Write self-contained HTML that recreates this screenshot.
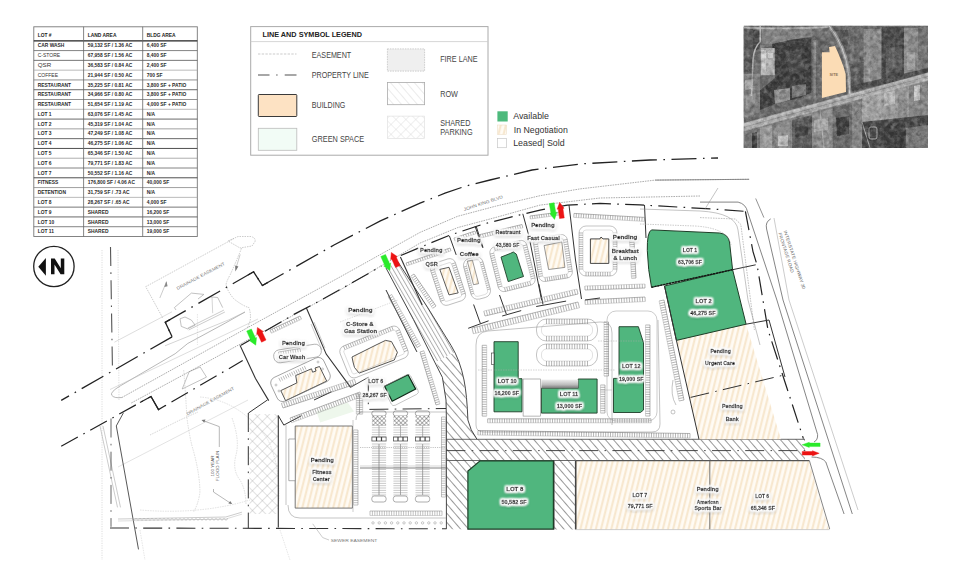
<!DOCTYPE html><html><head><meta charset="utf-8"><style>
html,body{margin:0;padding:0;background:#fff;width:958px;height:588px;overflow:hidden;}
svg{display:block;font-family:"Liberation Sans", sans-serif;}

</style></head><body>
<svg width="958" height="588" viewBox="0 0 958 588">
<defs>
<pattern id="row" patternUnits="userSpaceOnUse" width="6" height="6" patternTransform="rotate(-41)"><rect width="6" height="6" fill="#fff"/><line x1="0.5" y1="0" x2="0.5" y2="6" stroke="#777" stroke-width="0.75"/></pattern>
<pattern id="peach" patternUnits="userSpaceOnUse" width="5" height="5" patternTransform="rotate(14)"><rect width="5" height="5" fill="#fffbf4"/><line x1="1.2" y1="0" x2="1.2" y2="5" stroke="#f7e6cc" stroke-width="2.0"/></pattern>
<pattern id="xh" patternUnits="userSpaceOnUse" width="7" height="7" patternTransform="rotate(45)"><rect width="7" height="7" fill="#fff"/><line x1="0" y1="0" x2="0" y2="7" stroke="#9a9a9a" stroke-width="0.6"/><line x1="0" y1="0" x2="7" y2="0" stroke="#9a9a9a" stroke-width="0.6"/></pattern>
<pattern id="lrow" patternUnits="userSpaceOnUse" width="6" height="6" patternTransform="rotate(-41)"><rect width="6" height="6" fill="#fff"/><line x1="0" y1="0" x2="0" y2="6" stroke="#bbb" stroke-width="0.6"/></pattern>
<pattern id="lx" patternUnits="userSpaceOnUse" width="7" height="7" patternTransform="rotate(45)"><rect width="7" height="7" fill="#fff"/><line x1="0" y1="0" x2="0" y2="7" stroke="#c8c8c8" stroke-width="0.6"/><line x1="0" y1="0" x2="7" y2="0" stroke="#c8c8c8" stroke-width="0.6"/></pattern>
<filter id="glow" x="-30%" y="-80%" width="160%" height="260%"><feMorphology in="SourceAlpha" operator="dilate" radius="0.7" result="dil"/><feGaussianBlur in="dil" stdDeviation="1.7" result="b1"/><feOffset in="b1" dy="1.2" result="b1o"/><feFlood flood-color="#000" flood-opacity="0.62"/><feComposite in2="b1o" operator="in" result="sh"/><feGaussianBlur in="dil" stdDeviation="0.95" result="b2"/><feFlood flood-color="#fff" flood-opacity="1"/><feComposite in2="b2" operator="in" result="wh"/><feMerge><feMergeNode in="sh"/><feMergeNode in="wh"/><feMergeNode in="wh"/><feMergeNode in="wh"/><feMergeNode in="SourceGraphic"/></feMerge></filter>
<pattern id="xd" patternUnits="userSpaceOnUse" width="3" height="3" patternTransform="rotate(45)"><rect width="3" height="3" fill="#fff"/><line x1="0" y1="0" x2="0" y2="3" stroke="#444" stroke-width="0.8"/><line x1="0" y1="0" x2="3" y2="0" stroke="#444" stroke-width="0.8"/></pattern>
<pattern id="row2" patternUnits="userSpaceOnUse" width="3.6" height="6" patternTransform="rotate(-30)"><rect width="3.6" height="6" fill="#fff"/><line x1="0.5" y1="0" x2="0.5" y2="6" stroke="#777" stroke-width="0.6"/></pattern>
</defs>
<rect x="33.8" y="26.8" width="163.5" height="209.7" fill="#fff" stroke="#777" stroke-width="0.9"/>
<text x="37.7" y="37.2" font-size="4.9" font-weight="bold" fill="#222" text-anchor="start" >LOT #</text>
<text x="87.8" y="37.2" font-size="4.9" font-weight="bold" fill="#222" text-anchor="start" >LAND AREA</text>
<text x="146.7" y="37.2" font-size="4.9" font-weight="bold" fill="#222" text-anchor="start" >BLDG AREA</text>
<line x1="33.8" y1="40.8" x2="197.3" y2="40.8" stroke="#222" stroke-width="1.3" />
<line x1="33.8" y1="50.58" x2="197.3" y2="50.58" stroke="#666" stroke-width="0.8" />
<text x="37.7" y="47.4" font-size="4.9" font-weight="bold" fill="#2a2a2a" text-anchor="start" >CAR WASH</text>
<text x="87.8" y="47.4" font-size="4.9" font-weight="bold" fill="#2a2a2a" text-anchor="start" >59,132 SF / 1.36 AC</text>
<text x="146.7" y="47.4" font-size="4.9" font-weight="bold" fill="#2a2a2a" text-anchor="start" >6,400 SF</text>
<line x1="33.8" y1="60.37" x2="197.3" y2="60.37" stroke="#555" stroke-width="0.8" />
<text x="37.7" y="57.18" font-size="5.0" font-weight="normal" fill="#333" text-anchor="start" >C-STORE</text>
<text x="87.8" y="57.18" font-size="4.9" font-weight="bold" fill="#2a2a2a" text-anchor="start" >67,958 SF / 1.56 AC</text>
<text x="146.7" y="57.18" font-size="4.9" font-weight="bold" fill="#2a2a2a" text-anchor="start" >8,400 SF</text>
<line x1="33.8" y1="70.16" x2="197.3" y2="70.16" stroke="#aaa" stroke-width="0.8" />
<text x="37.7" y="67.27" font-size="6.2" font-weight="normal" fill="#333" text-anchor="start" >QSR</text>
<text x="87.8" y="66.97" font-size="4.9" font-weight="bold" fill="#2a2a2a" text-anchor="start" >36,583 SF / 0.84 AC</text>
<text x="146.7" y="66.97" font-size="4.9" font-weight="bold" fill="#2a2a2a" text-anchor="start" >2,400 SF</text>
<line x1="33.8" y1="79.94" x2="197.3" y2="79.94" stroke="#777" stroke-width="0.8" />
<text x="37.7" y="76.75" font-size="5.0" font-weight="normal" fill="#333" text-anchor="start" >COFFEE</text>
<text x="87.8" y="76.75" font-size="4.9" font-weight="bold" fill="#2a2a2a" text-anchor="start" >21,944 SF / 0.50 AC</text>
<text x="146.7" y="76.75" font-size="4.9" font-weight="bold" fill="#2a2a2a" text-anchor="start" >700 SF</text>
<line x1="33.8" y1="89.72" x2="197.3" y2="89.72" stroke="#444" stroke-width="0.8" />
<text x="37.7" y="86.54" font-size="4.9" font-weight="bold" fill="#2a2a2a" text-anchor="start" >RESTAURANT</text>
<text x="87.8" y="86.54" font-size="4.9" font-weight="bold" fill="#2a2a2a" text-anchor="start" >35,225 SF / 0.81 AC</text>
<text x="146.7" y="86.54" font-size="4.9" font-weight="bold" fill="#2a2a2a" text-anchor="start" >3,800 SF + PATIO</text>
<line x1="33.8" y1="99.51" x2="197.3" y2="99.51" stroke="#777" stroke-width="0.8" />
<text x="37.7" y="96.32" font-size="4.9" font-weight="bold" fill="#2a2a2a" text-anchor="start" >RESTAURANT</text>
<text x="87.8" y="96.32" font-size="4.9" font-weight="bold" fill="#2a2a2a" text-anchor="start" >34,966 SF / 0.80 AC</text>
<text x="146.7" y="96.32" font-size="4.9" font-weight="bold" fill="#2a2a2a" text-anchor="start" >3,800 SF + PATIO</text>
<line x1="33.8" y1="109.3" x2="197.3" y2="109.3" stroke="#aaa" stroke-width="0.8" />
<text x="37.7" y="106.11" font-size="4.9" font-weight="bold" fill="#2a2a2a" text-anchor="start" >RESTAURANT</text>
<text x="87.8" y="106.11" font-size="4.9" font-weight="bold" fill="#2a2a2a" text-anchor="start" >51,654 SF / 1.19 AC</text>
<text x="146.7" y="106.11" font-size="4.9" font-weight="bold" fill="#2a2a2a" text-anchor="start" >4,000 SF + PATIO</text>
<line x1="33.8" y1="119.08" x2="197.3" y2="119.08" stroke="#444" stroke-width="0.8" />
<text x="37.7" y="115.89" font-size="4.9" font-weight="bold" fill="#2a2a2a" text-anchor="start" >LOT 1</text>
<text x="87.8" y="115.89" font-size="4.9" font-weight="bold" fill="#2a2a2a" text-anchor="start" >63,076 SF / 1.45 AC</text>
<text x="146.7" y="115.89" font-size="4.9" font-weight="bold" fill="#2a2a2a" text-anchor="start" >N/A</text>
<line x1="33.8" y1="128.87" x2="197.3" y2="128.87" stroke="#888" stroke-width="0.8" />
<text x="37.7" y="125.68" font-size="4.9" font-weight="bold" fill="#2a2a2a" text-anchor="start" >LOT 2</text>
<text x="87.8" y="125.68" font-size="4.9" font-weight="bold" fill="#2a2a2a" text-anchor="start" >45,319 SF / 1.04 AC</text>
<text x="146.7" y="125.68" font-size="4.9" font-weight="bold" fill="#2a2a2a" text-anchor="start" >N/A</text>
<line x1="33.8" y1="138.65" x2="197.3" y2="138.65" stroke="#444" stroke-width="0.8" />
<text x="37.7" y="135.47" font-size="4.9" font-weight="bold" fill="#2a2a2a" text-anchor="start" >LOT 3</text>
<text x="87.8" y="135.47" font-size="4.9" font-weight="bold" fill="#2a2a2a" text-anchor="start" >47,249 SF / 1.08 AC</text>
<text x="146.7" y="135.47" font-size="4.9" font-weight="bold" fill="#2a2a2a" text-anchor="start" >N/A</text>
<line x1="33.8" y1="148.44" x2="197.3" y2="148.44" stroke="#222" stroke-width="0.8" />
<text x="37.7" y="145.25" font-size="4.9" font-weight="bold" fill="#2a2a2a" text-anchor="start" >LOT 4</text>
<text x="87.8" y="145.25" font-size="4.9" font-weight="bold" fill="#2a2a2a" text-anchor="start" >46,275 SF / 1.06 AC</text>
<text x="146.7" y="145.25" font-size="4.9" font-weight="bold" fill="#2a2a2a" text-anchor="start" >N/A</text>
<line x1="33.8" y1="158.22" x2="197.3" y2="158.22" stroke="#999" stroke-width="0.8" />
<text x="37.7" y="155.03" font-size="4.9" font-weight="bold" fill="#2a2a2a" text-anchor="start" >LOT 5</text>
<text x="87.8" y="155.03" font-size="4.9" font-weight="bold" fill="#2a2a2a" text-anchor="start" >65,346 SF / 1.50 AC</text>
<text x="146.7" y="155.03" font-size="4.9" font-weight="bold" fill="#2a2a2a" text-anchor="start" >N/A</text>
<line x1="33.8" y1="168.0" x2="197.3" y2="168.0" stroke="#666" stroke-width="0.8" />
<text x="37.7" y="164.82" font-size="4.9" font-weight="bold" fill="#2a2a2a" text-anchor="start" >LOT 6</text>
<text x="87.8" y="164.82" font-size="4.9" font-weight="bold" fill="#2a2a2a" text-anchor="start" >79,771 SF / 1.83 AC</text>
<text x="146.7" y="164.82" font-size="4.9" font-weight="bold" fill="#2a2a2a" text-anchor="start" >N/A</text>
<line x1="33.8" y1="177.79" x2="197.3" y2="177.79" stroke="#222" stroke-width="0.8" />
<text x="37.7" y="174.6" font-size="4.9" font-weight="bold" fill="#2a2a2a" text-anchor="start" >LOT 7</text>
<text x="87.8" y="174.6" font-size="4.9" font-weight="bold" fill="#2a2a2a" text-anchor="start" >50,552 SF / 1.16 AC</text>
<text x="146.7" y="174.6" font-size="4.9" font-weight="bold" fill="#2a2a2a" text-anchor="start" >N/A</text>
<line x1="33.8" y1="187.57" x2="197.3" y2="187.57" stroke="#888" stroke-width="0.8" />
<text x="37.7" y="184.39" font-size="4.9" font-weight="bold" fill="#2a2a2a" text-anchor="start" >FITNESS</text>
<text x="87.8" y="184.39" font-size="4.9" font-weight="bold" fill="#2a2a2a" text-anchor="start" >176,800 SF / 4.06 AC</text>
<text x="146.7" y="184.39" font-size="4.9" font-weight="bold" fill="#2a2a2a" text-anchor="start" >40,000 SF</text>
<line x1="33.8" y1="197.36" x2="197.3" y2="197.36" stroke="#aaa" stroke-width="0.8" />
<text x="37.7" y="194.17" font-size="4.9" font-weight="bold" fill="#2a2a2a" text-anchor="start" >DETENTION</text>
<text x="87.8" y="194.17" font-size="4.9" font-weight="bold" fill="#2a2a2a" text-anchor="start" >31,759 SF / .73 AC</text>
<text x="146.7" y="194.17" font-size="4.9" font-weight="bold" fill="#2a2a2a" text-anchor="start" >N/A</text>
<line x1="33.8" y1="207.14" x2="197.3" y2="207.14" stroke="#555" stroke-width="0.8" />
<text x="37.7" y="203.96" font-size="4.9" font-weight="bold" fill="#2a2a2a" text-anchor="start" >LOT 8</text>
<text x="87.8" y="203.96" font-size="4.9" font-weight="bold" fill="#2a2a2a" text-anchor="start" >28,267 SF / .65 AC</text>
<text x="146.7" y="203.96" font-size="4.9" font-weight="bold" fill="#2a2a2a" text-anchor="start" >4,000 SF</text>
<line x1="33.8" y1="216.93" x2="197.3" y2="216.93" stroke="#444" stroke-width="0.8" />
<text x="37.7" y="213.74" font-size="4.9" font-weight="bold" fill="#2a2a2a" text-anchor="start" >LOT 9</text>
<text x="87.8" y="213.74" font-size="4.9" font-weight="bold" fill="#2a2a2a" text-anchor="start" >SHARED</text>
<text x="146.7" y="213.74" font-size="4.9" font-weight="bold" fill="#2a2a2a" text-anchor="start" >16,200 SF</text>
<line x1="33.8" y1="226.71" x2="197.3" y2="226.71" stroke="#666" stroke-width="0.8" />
<text x="37.7" y="223.53" font-size="4.9" font-weight="bold" fill="#2a2a2a" text-anchor="start" >LOT 10</text>
<text x="87.8" y="223.53" font-size="4.9" font-weight="bold" fill="#2a2a2a" text-anchor="start" >SHARED</text>
<text x="146.7" y="223.53" font-size="4.9" font-weight="bold" fill="#2a2a2a" text-anchor="start" >13,000 SF</text>
<text x="37.7" y="233.31" font-size="4.9" font-weight="bold" fill="#2a2a2a" text-anchor="start" >LOT 11</text>
<text x="87.8" y="233.31" font-size="4.9" font-weight="bold" fill="#2a2a2a" text-anchor="start" >SHARED</text>
<text x="146.7" y="233.31" font-size="4.9" font-weight="bold" fill="#2a2a2a" text-anchor="start" >19,000 SF</text>
<line x1="83.6" y1="26.8" x2="83.6" y2="236.5" stroke="#666" stroke-width="0.8" />
<line x1="142.7" y1="26.8" x2="142.7" y2="236.5" stroke="#666" stroke-width="0.8" />
<rect x="250.7" y="26.6" width="237.3" height="128.6" fill="#fff" stroke="#aaa" stroke-width="1"/>
<line x1="250.7" y1="41.6" x2="488" y2="41.6" stroke="#ccc" stroke-width="0.8" />
<text x="262.5" y="37.0" font-size="6.8" font-weight="bold" fill="#222" text-anchor="start" textLength="99.5" lengthAdjust="spacingAndGlyphs" >LINE AND SYMBOL LEGEND</text>
<line x1="258" y1="54" x2="296.5" y2="54" stroke="#aaa" stroke-width="0.6" stroke-dasharray="2.4,1.3" />
<text x="311.8" y="57.5" font-size="8.2" font-weight="normal" fill="#444" text-anchor="start" textLength="39.4" lengthAdjust="spacingAndGlyphs" >EASEMENT</text>
<line x1="258" y1="75" x2="269.5" y2="75" stroke="#777" stroke-width="1.3" />
<line x1="276.3" y1="75" x2="277.5" y2="75" stroke="#777" stroke-width="1.3" />
<line x1="284.7" y1="75" x2="296.5" y2="75" stroke="#777" stroke-width="1.3" />
<text x="311.8" y="78.1" font-size="8.2" font-weight="normal" fill="#444" text-anchor="start" textLength="57" lengthAdjust="spacingAndGlyphs" >PROPERTY LINE</text>
<rect x="258.3" y="94.5" width="38.5" height="22" rx="0.8" fill="#fde2c3" stroke="#3a3a3a" stroke-width="1"/>
<text x="311.8" y="107.8" font-size="8.2" font-weight="normal" fill="#444" text-anchor="start" textLength="33.5" lengthAdjust="spacingAndGlyphs" >BUILDING</text>
<rect x="258.3" y="128.3" width="38.5" height="22" fill="#f2fcf6" stroke="#bbb" stroke-width="0.8"/>
<text x="311.8" y="141.8" font-size="8.2" font-weight="normal" fill="#444" text-anchor="start" textLength="52.4" lengthAdjust="spacingAndGlyphs" >GREEN SPACE</text>
<rect x="387.4" y="48.9" width="37.2" height="22.2" fill="#efefef" stroke="#bbb" stroke-width="0.7" stroke-dasharray="1.5,1"/>
<text x="440.2" y="62.4" font-size="8.2" font-weight="normal" fill="#444" text-anchor="start" textLength="37.4" lengthAdjust="spacingAndGlyphs" >FIRE LANE</text>
<rect x="387.4" y="82.4" width="37.2" height="22.3" fill="url(#lrow)" stroke="#aaa" stroke-width="0.8"/>
<text x="440.2" y="96.6" font-size="8.2" font-weight="normal" fill="#444" text-anchor="start" textLength="17.7" lengthAdjust="spacingAndGlyphs" >ROW</text>
<rect x="387.4" y="116.1" width="37.2" height="22.3" fill="url(#lx)" stroke="#ddd" stroke-width="0.6"/>
<text x="440.2" y="126.4" font-size="8.2" font-weight="normal" fill="#444" text-anchor="start" textLength="30.2" lengthAdjust="spacingAndGlyphs" >SHARED</text>
<text x="440.2" y="134.6" font-size="8.2" font-weight="normal" fill="#444" text-anchor="start" textLength="32.4" lengthAdjust="spacingAndGlyphs" >PARKING</text>
<rect x="497.4" y="111.3" width="10.3" height="10.2" fill="#4dba7c"/>
<rect x="497.6" y="125" width="9" height="9.4" fill="url(#peach)" stroke="#ead9c0" stroke-width="0.5"/>
<rect x="497.6" y="138.4" width="9" height="9.3" fill="#fff" stroke="#c8c8c8" stroke-width="0.7"/>
<text x="513.2" y="119.4" font-size="8.8" font-weight="normal" fill="#333" text-anchor="start" textLength="35.8" lengthAdjust="spacingAndGlyphs" >Available</text>
<text x="513.8" y="133.0" font-size="8.8" font-weight="normal" fill="#333" text-anchor="start" textLength="54" lengthAdjust="spacingAndGlyphs" >In Negotiation</text>
<text x="513.2" y="146.3" font-size="8.8" font-weight="normal" fill="#333" text-anchor="start" textLength="51.4" lengthAdjust="spacingAndGlyphs" >Leased| Sold</text>
<defs><clipPath id="aclip"><rect x="743.6" y="25.5" width="184.4" height="122.5"/></clipPath><filter id="noise" x="0" y="0" width="100%" height="100%"><feTurbulence type="fractalNoise" baseFrequency="0.22" numOctaves="3" seed="7"/><feColorMatrix type="matrix" values="0 0 0 0 0  0 0 0 0 0  0 0 0 0 0  0.9 0.9 0.9 0 -1.1"/></filter><filter id="noise2" x="0" y="0" width="100%" height="100%"><feTurbulence type="fractalNoise" baseFrequency="0.22" numOctaves="3" seed="11"/><feColorMatrix type="matrix" values="0 0 0 0 1  0 0 0 0 1  0 0 0 0 1  0.9 0.9 0.9 0 -1.15"/></filter><filter id="ab" x="-5%" y="-5%" width="110%" height="110%"><feGaussianBlur stdDeviation="0.6"/></filter></defs>
<g clip-path="url(#aclip)">
<g filter="url(#ab)">
<rect x="743.6" y="25.5" width="184.39999999999998" height="122.5" fill="#6c6c6c"/>
<polygon points="743.0,27.0 830.0,27.0 830.0,40.0 812.0,38.0 790.0,42.0 775.0,46.0 760.0,48.0 743.0,48.0" fill="#747474" stroke="none" stroke-width="1" />
<polygon points="762.0,29.0 812.0,29.0 812.0,37.0 790.0,40.0 775.0,44.0 762.0,44.0" fill="#868686" stroke="none" stroke-width="1" />
<polygon points="743.0,29.0 753.0,29.0 753.0,74.0 743.0,74.0" fill="#5a5a5a" stroke="none" stroke-width="1" />
<polygon points="753.0,30.0 760.0,30.0 760.0,48.0 753.0,52.0" fill="#4a4a4a" stroke="none" stroke-width="1" />
<polygon points="772.0,44.0 790.0,40.0 812.0,37.0 812.0,92.0 800.0,98.0 775.0,104.0 760.0,110.0 758.0,92.0 775.0,78.0" fill="#3e3e3e" stroke="none" stroke-width="1" />
<polygon points="785.0,52.0 800.0,50.0 805.0,70.0 790.0,75.0" fill="#4c4c4c" stroke="none" stroke-width="1" />
<polygon points="760.8,48.0 774.7,48.0 774.7,75.2 760.8,75.2" fill="#b8b8b8" stroke="none" stroke-width="1" />
<polygon points="761.5,50.0 766.0,50.0 766.0,72.0 761.5,72.0" fill="#d6d6d6" stroke="none" stroke-width="1" />
<polygon points="768.0,53.0 773.0,53.0 773.0,58.0 768.0,58.0" fill="#e0e0e0" stroke="none" stroke-width="1" />
<polygon points="743.0,74.0 760.0,74.0 760.0,112.0 743.0,118.0" fill="#828282" stroke="none" stroke-width="1" />
<polygon points="745.0,80.0 752.0,79.0 751.0,89.0 745.0,90.0" fill="#b0b0b0" stroke="none" stroke-width="1" />
<polygon points="746.0,95.0 756.0,93.0 755.0,103.0 746.0,105.0" fill="#9a9a9a" stroke="none" stroke-width="1" />
<polygon points="774.0,90.0 790.0,88.0 790.0,100.0 775.0,104.0" fill="#959595" stroke="none" stroke-width="1" />
<polygon points="792.0,86.0 806.0,84.0 806.0,95.0 792.0,98.0" fill="#7a7a7a" stroke="none" stroke-width="1" />
<polygon points="811.5,36.0 821.5,36.0 821.5,101.0 811.5,104.0" fill="#6a6a6a" stroke="none" stroke-width="1" />
<polygon points="813.5,40.0 816.0,40.0 816.0,98.0 813.5,99.0" fill="#8c8c8c" stroke="none" stroke-width="1" />
<path d="M744,27.5 Q790,29.5 828,27" fill="none" stroke="#b4b4b4" stroke-width="1.8"/>
<path d="M760.2,25.5 L760.2,41.7 Q754,47 753,60 L751.6,96" fill="none" stroke="#bcbcbc" stroke-width="1.5"/>
<polygon points="835.0,30.0 848.0,30.0 849.0,38.0 846.0,52.0" fill="#555" stroke="none" stroke-width="1" />
<polygon points="849.0,36.0 863.5,36.0 863.5,62.0 852.0,64.0" fill="#6e6e6e" stroke="none" stroke-width="1" />
<polygon points="863.5,29.0 881.0,29.0 881.0,82.0 863.5,86.0" fill="#8c8c8c" stroke="none" stroke-width="1" />
<polygon points="866.0,31.0 870.0,31.0 870.0,80.0 866.0,82.0" fill="#979797" stroke="none" stroke-width="1" />
<polygon points="882.0,27.0 904.0,27.0 904.0,77.0 882.0,81.0" fill="#4a4a4a" stroke="none" stroke-width="1" />
<polygon points="886.0,48.0 902.0,46.0 902.0,70.0 886.0,73.0" fill="#5e5e5e" stroke="none" stroke-width="1" />
<polygon points="904.0,28.0 918.0,28.0 918.0,74.0 904.0,77.0" fill="#8e8e8e" stroke="none" stroke-width="1" />
<polygon points="907.0,52.0 915.0,52.0 915.0,70.0 907.0,70.0" fill="#a6a6a6" stroke="none" stroke-width="1" />
<polygon points="918.0,27.0 928.0,27.0 928.0,72.0 918.0,74.0" fill="#767676" stroke="none" stroke-width="1" />
<polygon points="850.0,64.0 863.5,62.0 863.5,88.0 852.0,90.0" fill="#5c5c5c" stroke="none" stroke-width="1" />
<polygon points="850.0,86.0 928.0,68.0 928.0,74.0 850.0,92.0" fill="#4c4c4c" stroke="none" stroke-width="1" />
<path d="M829,25.5 Q837,36 841.6,47 Q847.5,61 848.7,75 L850,100" fill="none" stroke="#9a9a9a" stroke-width="3.6"/>
<path d="M829,25.5 Q837,36 841.6,47 Q847.5,61 848.7,75 L850,100" fill="none" stroke="#cfcfcf" stroke-width="1"/>
<polygon points="743.0,131.0 928.0,80.0 928.0,148.0 743.0,148.0" fill="#858585" stroke="none" stroke-width="1" />
<polygon points="743.0,132.0 760.0,128.0 760.0,148.0 743.0,148.0" fill="#7a7a7a" stroke="none" stroke-width="1" />
<polygon points="752.0,133.0 757.0,132.0 757.0,148.0 752.0,148.0" fill="#3a3a3a" stroke="none" stroke-width="1" />
<polygon points="760.0,128.0 772.0,125.0 772.0,148.0 760.0,148.0" fill="#a0a0a0" stroke="none" stroke-width="1" />
<polygon points="774.0,125.0 790.0,121.0 790.0,148.0 774.0,148.0" fill="#909090" stroke="none" stroke-width="1" />
<polygon points="778.0,136.0 788.0,135.0 788.0,146.0 778.0,146.0" fill="#c6c6c6" stroke="none" stroke-width="1" />
<polygon points="792.0,120.0 812.0,115.0 812.0,148.0 792.0,148.0" fill="#5a5a5a" stroke="none" stroke-width="1" />
<polygon points="795.0,125.0 808.0,122.0 808.0,135.0 795.0,137.0" fill="#4a4a4a" stroke="none" stroke-width="1" />
<polygon points="812.0,114.0 832.0,109.0 832.0,148.0 812.0,148.0" fill="#909090" stroke="none" stroke-width="1" />
<polygon points="814.0,120.0 828.0,118.0 828.0,130.0 814.0,132.0" fill="#b0b0b0" stroke="none" stroke-width="1" />
<polygon points="833.0,108.0 852.0,103.0 852.0,148.0 833.0,148.0" fill="#6c6c6c" stroke="none" stroke-width="1" />
<polygon points="836.0,118.0 849.0,116.0 849.0,134.0 837.0,136.0" fill="#3c3c3c" stroke="none" stroke-width="1" />
<polygon points="853.0,103.0 862.0,100.0 862.0,148.0 853.0,148.0" fill="#8a8a8a" stroke="none" stroke-width="1" />
<polygon points="862.0,97.0 882.0,92.0 882.0,122.0 862.0,122.0" fill="#a8a8a8" stroke="none" stroke-width="1" />
<polygon points="882.0,88.0 909.0,82.0 909.0,122.0 882.0,122.0" fill="#a0a0a0" stroke="none" stroke-width="1" />
<polygon points="884.0,93.0 895.0,91.0 895.0,104.0 884.0,106.0" fill="#c4c4c4" stroke="none" stroke-width="1" />
<polygon points="898.0,95.0 907.0,93.0 907.0,118.0 898.0,118.0" fill="#8e8e8e" stroke="none" stroke-width="1" />
<polygon points="909.0,82.0 928.0,78.0 928.0,115.0 909.0,118.0" fill="#8a8a8a" stroke="none" stroke-width="1" />
<polygon points="914.0,86.0 920.0,85.0 920.0,100.0 914.0,101.0" fill="#d0d0d0" stroke="none" stroke-width="1" />
<polygon points="862.0,122.0 928.0,115.0 928.0,148.0 862.0,148.0" fill="#474747" stroke="none" stroke-width="1" />
<polygon points="884.0,125.0 905.0,123.0 905.0,148.0 884.0,148.0" fill="#3c3c3c" stroke="none" stroke-width="1" />
<polygon points="906.0,128.0 928.0,125.0 928.0,148.0 906.0,148.0" fill="#7a7a7a" stroke="none" stroke-width="1" />
<rect x="869" y="127" width="8" height="12" rx="2" fill="none" stroke="#bbb" stroke-width="0.9"/>
<path d="M862,122 L870,148" fill="none" stroke="#aaa" stroke-width="1"/>
<path d="M820,110 L824,148" fill="none" stroke="#bbb" stroke-width="1"/>
<polygon points="743.6,123.1 928.0,72.4 928.0,80.4 743.6,131.4" fill="#b4b4b4" stroke="none" stroke-width="1" />
<line x1="743.6" y1="127.3" x2="928" y2="76.4" stroke="#888" stroke-width="0.7" />
<line x1="743.6" y1="124.5" x2="928" y2="73.8" stroke="#cfcfcf" stroke-width="0.5" />
<line x1="743.6" y1="130" x2="928" y2="79.2" stroke="#cfcfcf" stroke-width="0.5" />
</g>
<rect x="743.6" y="25.5" width="184.39999999999998" height="122.5" filter="url(#noise)" opacity="0.35"/>
<rect x="743.6" y="25.5" width="184.39999999999998" height="122.5" filter="url(#noise2)" opacity="0.3"/>
<polygon points="821.9,52.3 829.6,52.3 829.0,46.9 835.0,46.0 838.6,54.0 843.3,66.0 845.7,74.3 846.0,92.1 821.9,98.1" fill="#fbdcb5" stroke="none" stroke-width="1" />
<text x="833.8" y="75.5" font-size="3.8" font-weight="bold" fill="#8a7355" text-anchor="middle" >SITE</text>
</g>
<polygon points="386.0,268.0 398.0,262.0 427.9,307.9 451.1,345.5 455.0,352.0 436.0,362.0 432.2,357.1 413.4,319.5" fill="url(#row2)" stroke="none" stroke-width="1" />
<polygon points="436.0,362.0 455.0,352.0 462.6,374.5 466.0,400.0 467.9,420.0 473.0,432.0 477.0,439.3 805.0,439.3 805.0,460.5 575.0,460.5 575.0,529.5 554.2,529.5 554.2,460.5 480.0,460.5 467.9,471.0 467.9,529.2 446.4,529.2 446.4,420.0 446.0,400.0 442.4,377.4" fill="url(#row)" stroke="none" stroke-width="1" />
<polyline points="386.0,268.0 413.4,319.5 432.2,357.1 442.4,377.4 446.0,400.0 446.4,420.0 446.4,529.2" fill="none" stroke="#333" stroke-width="0.9" />
<path d="M398,262 L427.9,307.9 L451.1,345.5 Q460,360 464,380 Q467,395 467.9,420 Q470,430 477,439.3" fill="none" stroke="#333" stroke-width="0.9"/>
<line x1="446.4" y1="439.3" x2="805" y2="439.3" stroke="#444" stroke-width="0.8" />
<line x1="446.4" y1="460.5" x2="805" y2="460.5" stroke="#444" stroke-width="0.8" />
<line x1="446.4" y1="450.6" x2="810" y2="450.6" stroke="#333" stroke-width="0.9" stroke-dasharray="19,6.3,1.6,6.3" />
<line x1="554.2" y1="460.5" x2="554.2" y2="529.5" stroke="#444" stroke-width="0.8" />
<polygon points="316.4,411.4 347.7,402.6 354.0,411.4 320.2,422.6" fill="#eef7ec" stroke="none" stroke-width="1" />
<polygon points="249.5,414.0 278.1,414.0 278.1,514.0 249.5,514.0" fill="url(#xh)" stroke="none" stroke-width="1" />
<polygon points="575.7,460.8 808.7,460.8 828.7,529.5 575.7,529.5" fill="url(#peach)" stroke="none" stroke-width="1" />
<line x1="575.7" y1="461" x2="575.7" y2="529.5" stroke="#444" stroke-width="1.6" />
<line x1="575.7" y1="460.6" x2="809.5" y2="460.6" stroke="#555" stroke-width="1.3" />
<line x1="709.8" y1="460.6" x2="709.8" y2="529.5" stroke="#666" stroke-width="0.9" />
<line x1="809.5" y1="461" x2="829.7" y2="529" stroke="#777" stroke-width="0.9" />
<line x1="575.7" y1="529.6" x2="829.7" y2="529.6" stroke="#bbb" stroke-width="0.7" />
<polygon points="676.4,340.4 746.1,324.2 781.0,439.3 699.0,439.3 681.2,360.0" fill="url(#peach)" stroke="none" stroke-width="1" />
<polygon points="295.2,426.0 352.4,426.0 352.4,508.1 295.2,508.1" fill="url(#peach)" stroke="#555" stroke-width="0.8" />
<polygon points="288.8,439.0 295.2,439.0 295.2,480.7 288.8,480.7" fill="#fff" stroke="#777" stroke-width="0.6" />
<polygon points="280.8,390.6 296.9,382.9 295.7,375.5 311.5,368.8 312.6,372.2 316.0,371.0 315.0,368.0 319.5,366.5 326.7,381.1 285.6,400.7" fill="url(#peach)" stroke="#444" stroke-width="0.9" />
<polygon points="352.0,357.0 376.0,345.0 385.5,340.4 391.5,341.6 397.4,352.4 394.3,360.0 359.1,373.1 354.5,367.5 353.0,362.0" fill="url(#peach)" stroke="#444" stroke-width="0.9" />
<polygon points="439.8,269.4 449.0,267.3 458.2,292.9 449.0,294.9" fill="url(#peach)" stroke="#333" stroke-width="0.8" />
<polygon points="467.3,261.2 472.4,260.2 478.6,283.7 473.5,284.7" fill="url(#peach)" stroke="#555" stroke-width="0.6" />
<polygon points="544.1,245.6 561.8,241.9 564.9,267.4 548.6,269.5" fill="url(#peach)" stroke="#555" stroke-width="0.6" />
<polygon points="590.4,238.9 600.0,238.9 601.0,237.0 603.0,238.9 608.8,238.9 608.8,263.4 590.4,263.4" fill="url(#peach)" stroke="#333" stroke-width="0.9" />
<path d="M651.5,229.9 L719.6,233 Q728,234 729.5,242 L732.6,269.7 L651.5,287.3 Q648,270 647.3,250.6 Q647,232 651.5,229.9 Z" fill="#50b67e" stroke="#1f3d28" stroke-width="1"/>
<polygon points="664.5,286.0 732.6,269.7 746.1,324.2 676.4,340.4" fill="#50b67e" stroke="#1f3d28" stroke-width="1" />
<line x1="651.5" y1="287.3" x2="732.6" y2="269.7" stroke="#111" stroke-width="1.3" stroke-dasharray="2,1" />
<polygon points="494.0,341.7 518.2,341.7 518.2,378.7 522.0,378.7 522.0,411.8 494.0,411.8" fill="#50b67e" stroke="#1f3d28" stroke-width="0.9" />
<rect x="491.5" y="353" width="2.5" height="11.5" fill="#fff" stroke="#333" stroke-width="0.6"/>
<polygon points="541.4,388.2 578.2,388.2 578.2,379.0 597.1,379.0 597.1,413.1 541.4,413.1" fill="#50b67e" stroke="#1f3d28" stroke-width="0.9" />
<defs><linearGradient id="gbar" x1="0" y1="0" x2="0" y2="1"><stop offset="0" stop-color="#eee"/><stop offset="0.6" stop-color="#bbb"/><stop offset="1" stop-color="#777"/></linearGradient></defs>
<rect x="541.4" y="379.6" width="36.8" height="8.6" fill="url(#gbar)"/>
<polygon points="619.0,326.7 638.4,326.7 643.5,342.7 643.5,410.0 640.4,412.5 613.5,412.5 613.5,378.4 619.0,378.4" fill="#50b67e" stroke="#1f3d28" stroke-width="0.9" />
<rect x="523.1" y="379" width="17.3" height="37.1" fill="#fff" stroke="#888" stroke-width="0.6"/>
<polygon points="501.0,257.1 510.2,253.5 513.3,252.0 516.3,254.1 523.5,276.5 508.2,281.6" fill="#50b67e" stroke="#1f3d28" stroke-width="0.9" />
<polygon points="384.6,386.3 408.1,374.8 415.7,389.1 392.2,401.3" fill="#50b67e" stroke="#0f2a18" stroke-width="1.2" />
<polygon points="480.1,460.8 553.4,460.8 553.4,529.2 467.9,529.2 467.9,471.0" fill="#50b67e" stroke="#1f3d28" stroke-width="1.2" />
<line x1="110.5" y1="247" x2="112.5" y2="372" stroke="#555" stroke-width="1.1" stroke-dasharray="19,6.3,1.6,6.3" />
<line x1="102" y1="250" x2="102" y2="560" stroke="#c8c8c8" stroke-width="0.6" stroke-dasharray="1.2,1.2" />
<line x1="118" y1="250" x2="119" y2="400" stroke="#c8c8c8" stroke-width="0.6" stroke-dasharray="1.2,1.2" />
<polyline points="162.6,317.7 145.7,286.7 234.0,238.5" fill="none" stroke="#aaa" stroke-width="0.6" stroke-dasharray="1.5,1" />
<path d="M228,241 L238,236.5 L251,236.5 Q256,238 255,241.5 L252,246 L240,248 Z" fill="none" stroke="#aaa" stroke-width="0.6" stroke-dasharray="1.5,1"/>
<path d="M241.6,248.2 Q236,262 230.3,274.5 Q225,284 226.4,286 Q228,292 234,299 Q243,306 249,307.6 Q251,314 250.3,320.1 L247.7,327.6" fill="none" stroke="#aaa" stroke-width="0.6" stroke-dasharray="1.5,1"/>
<polyline points="159.8,298.0 166.4,282.0" fill="none" stroke="#999" stroke-width="0.5" />
<polygon points="166.4,281 164.3,287 167.6,286.2" fill="#888"/>
<polyline points="240.2,254.4 236.0,268.0" fill="none" stroke="#999" stroke-width="0.5" />
<polygon points="235.3,271.6 235.2,265.5 238.4,266.4" fill="#777"/>
<text x="0" y="0" font-size="4.3" font-weight="normal" fill="#777" text-anchor="start" textLength="54" lengthAdjust="spacingAndGlyphs" transform="translate(177.5,290) rotate(-28)">DRAINAGE EASEMENT</text>
<polyline points="176.0,310.0 174.4,307.6 191.4,293.1 203.9,294.4 198.0,299.0" fill="none" stroke="#999" stroke-width="0.6" />
<polyline points="210.2,296.9 217.7,297.5 222.7,307.6" fill="none" stroke="#999" stroke-width="0.6" />
<polyline points="212.0,297.0 212.7,313.2" fill="none" stroke="#aaa" stroke-width="0.5" />
<polyline points="180.0,318.8 185.0,317.0 191.4,320.1 195.1,325.1 187.6,328.9 181.3,326.4 180.0,318.8" fill="none" stroke="#999" stroke-width="0.6" />
<polyline points="187.6,328.2 223.9,310.1" fill="none" stroke="#999" stroke-width="0.5" />
<polyline points="188.6,330.0 224.9,312.0" fill="none" stroke="#999" stroke-width="0.5" />
<polyline points="197.4,314.0 197.4,345.0" fill="none" stroke="#ccc" stroke-width="0.5" stroke-dasharray="1.5,1" />
<polyline points="150.0,435.0 180.0,420.0 198.0,412.0" fill="none" stroke="#bbb" stroke-width="0.6" stroke-dasharray="1.5,1" />
<polyline points="182.2,389.0 189.2,371.7 200.2,367.0 206.5,377.1 182.2,389.0" fill="none" stroke="#999" stroke-width="0.6" />
<text x="0" y="0" font-size="4.3" font-weight="normal" fill="#777" text-anchor="start" textLength="54" lengthAdjust="spacingAndGlyphs" transform="translate(187.5,415.5) rotate(-29)">DRAINAGE EASEMENT</text>
<path d="M200,397 Q240,400 268,440 Q282,470 278,510" fill="none" stroke="#ccc" stroke-width="0.6" stroke-dasharray="1.5,1"/>
<path d="M140,510 Q200,515 250,500" fill="none" stroke="#ccc" stroke-width="0.6" stroke-dasharray="1.5,1"/>
<path d="M118,467 L248,400" fill="none" stroke="#d0d0d0" stroke-width="0.6"/>
<text x="0" y="0" font-size="4.4" font-weight="normal" fill="#555" text-anchor="middle" textLength="21" lengthAdjust="spacingAndGlyphs" transform="translate(213.6,466) rotate(-90)">100 YEAR</text>
<text x="0" y="0" font-size="4.4" font-weight="normal" fill="#555" text-anchor="middle" textLength="30.7" lengthAdjust="spacingAndGlyphs" transform="translate(218.8,466) rotate(-90)">FLOOD PLAIN</text>
<polyline points="203.0,420.6 219.3,426.6 219.3,447.0" fill="none" stroke="#888" stroke-width="0.6" />
<polygon points="201.5,420.1 205.5,419.5 204.2,422.6" fill="#777"/>
<polyline points="213.5,489.0 213.5,492.0 231.0,503.5" fill="none" stroke="#888" stroke-width="0.6" />
<polygon points="232.2,504.1 228.4,503.6 230.2,500.9" fill="#777"/>
<path d="M183.7,370 Q186,400 187,418.5 Q190,440 193.4,450.8 Q200,475 199.9,492.8 Q198,505 193.4,512.2" fill="none" stroke="#c4c4c4" stroke-width="0.6" stroke-dasharray="1.5,1"/>
<path d="M232,418 Q240,440 236,455 Q232,470 240,480 Q246,490 246,505" fill="none" stroke="#c8c8c8" stroke-width="0.6" stroke-dasharray="1.5,1"/>
<polyline points="61.2,400.4 172.1,336.8 165.3,322.3 253.6,271.8 262.4,285.5 334.0,245.0 380.4,220.9 420.0,203.2 445.0,193.2 465.0,186.3 490.0,180.0 532.0,170.0 582.5,163.8 650.0,160.0 718.0,158.0" fill="none" stroke="#222" stroke-width="1.3" stroke-dasharray="25,6.5,1.6,6.5" stroke-dashoffset="16"/>
<polyline points="172.1,336.8 165.3,322.3 170.0,319.6" fill="none" stroke="#222" stroke-width="1.3" />
<polyline points="248.0,275.0 253.6,271.8 262.4,285.5 268.0,282.4" fill="none" stroke="#222" stroke-width="1.3" />
<polyline points="140.0,402.6 151.0,396.5 158.5,409.6 165.0,405.8" fill="none" stroke="#222" stroke-width="1.2" />
<polyline points="121.9,397.5 250.0,326.3 340.0,277.0 420.0,232.4 457.6,216.3 495.2,206.3 540.0,195.7 580.0,188.9 655.2,180.1 749.2,179.3" fill="none" stroke="#8a8a8a" stroke-width="0.7" stroke-dasharray="1.6,0.9" />
<polyline points="131.3,403.0 250.0,338.8 340.0,290.0 420.0,243.1 457.6,227.6 495.2,217.6 540.0,205.1 600.0,198.0 700.0,196.0" fill="none" stroke="#8a8a8a" stroke-width="0.7" stroke-dasharray="1.6,0.9" />
<path d="M120.4,385.8 Q110,392 111.7,395.2 Q114,398.5 121.9,397.5" fill="none" stroke="#888" stroke-width="0.6"/>
<polyline points="120.4,385.8 175.2,353.7 187.7,343.5 225.3,323.1 245.0,312.0" fill="none" stroke="#888" stroke-width="0.6" />
<polyline points="165.0,345.8 228.4,320.0 245.0,312.0" fill="none" stroke="#aaa" stroke-width="0.5" />
<polyline points="110.0,389.5 200.0,346.5 258.0,319.0" fill="none" stroke="#bbb" stroke-width="0.5" />
<polyline points="114.4,342.2 172.0,311.8" fill="none" stroke="#bbb" stroke-width="0.5" />
<text x="0" y="0" font-size="4.4" font-weight="normal" fill="#777" text-anchor="start" textLength="41" lengthAdjust="spacingAndGlyphs" transform="translate(464.3,211) rotate(-18.5)">JOHN KING BLVD</text>
<polyline points="61.2,446.3 151.0,396.5 158.5,409.6 242.7,360.6" fill="none" stroke="#222" stroke-width="1.2" stroke-dasharray="19,6.3,1.6,6.3" />
<polyline points="241.0,345.3 294.4,314.1 318.3,301.6 356.5,280.3 381.3,266.1" fill="none" stroke="#222" stroke-width="1.2" stroke-dasharray="19,6.3,1.6,6.3" stroke-dashoffset="5.4"/>
<polyline points="400.8,255.5 431.3,242.7 450.1,235.1 483.9,223.9 519.0,215.1 540.0,210.1 567.3,205.1 600.0,203.4 640.0,204.9 710.3,208.9 745.4,211.4" fill="none" stroke="#222" stroke-width="1.2" stroke-dasharray="19,6.3,1.6,6.3" />
<polyline points="745.4,211.4 753.0,251.6 757.1,265.2 768.0,329.9 803.4,438.6" fill="none" stroke="#222" stroke-width="1.2" stroke-dasharray="19,6.3,1.6,6.3" />
<polyline points="700.0,217.6 735.3,219.0 740.8,224.4 754.4,329.9" fill="none" stroke="#999" stroke-width="0.6" stroke-dasharray="1.6,1" />
<path d="M700,202.1 L738.1,202.1 Q746,204 747.6,212 L776.9,300 L817.6,434.5 Q818,440 814,442" fill="none" stroke="#666" stroke-width="0.8"/>
<polyline points="755.7,198.5 763.9,217.6" fill="none" stroke="#666" stroke-width="0.7" />
<path d="M770.7,218.9 Q765,222 766.6,229 L783,300 L852.3,514" fill="none" stroke="#666" stroke-width="0.8"/>
<polyline points="774.0,218.0 789.0,300.0 858.0,510.0" fill="none" stroke="#999" stroke-width="0.5" />
<path d="M811.5,457 Q822,457 825.8,462 L844.1,514" fill="none" stroke="#666" stroke-width="0.8"/>
<text x="0" y="0" font-size="4.5" font-weight="normal" fill="#666" text-anchor="start" textLength="61.4" lengthAdjust="spacingAndGlyphs" transform="translate(783.6,231) rotate(72)">INTERSTATE HIGHWAY 30</text>
<text x="0" y="0" font-size="4.5" font-weight="normal" fill="#666" text-anchor="start" textLength="41.9" lengthAdjust="spacingAndGlyphs" transform="translate(778.2,233.3) rotate(72)">FRONTAGE ROAD</text>
<line x1="655.2" y1="180.1" x2="749.2" y2="179.3" stroke="#777" stroke-width="0.8" />
<rect x="-7.2" y="-2.5" width="14.3" height="5" rx="2.3" fill="none" stroke="#666" stroke-width="0.6" transform="translate(379.0,413.5) rotate(0)"/>
<rect x="371.9" y="416" width="14.2" height="9.4" fill="url(#xd)"/>
<path d="M379.0,425.4L379.0,437.0M379.0,425.4l-7.10,0.00M379.0,427.7l-7.10,0.00M379.0,430.0l-7.10,0.00M379.0,432.4l-7.10,0.00M379.0,434.7l-7.10,0.00M379.0,437.0l-7.10,0.00" stroke="#999" stroke-width="0.45" fill="none"/>
<path d="M379.0,425.4L379.0,437.0M379.0,425.4l7.10,-0.00M379.0,427.7l7.10,-0.00M379.0,430.0l7.10,-0.00M379.0,432.4l7.10,-0.00M379.0,434.7l7.10,-0.00M379.0,437.0l7.10,-0.00" stroke="#999" stroke-width="0.45" fill="none"/>
<rect x="371.9" y="437" width="14.2" height="4" fill="none" stroke="#555" stroke-width="0.8"/>
<line x1="376.5" y1="437" x2="376.5" y2="441" stroke="#444" stroke-width="1.2" />
<line x1="381.5" y1="437" x2="381.5" y2="441" stroke="#444" stroke-width="1.2" />
<path d="M379.0,444.0L379.0,495.0M379.0,444.0l-7.10,0.00M379.0,446.3l-7.10,0.00M379.0,448.6l-7.10,0.00M379.0,451.0l-7.10,0.00M379.0,453.3l-7.10,0.00M379.0,455.6l-7.10,0.00M379.0,457.9l-7.10,0.00M379.0,460.2l-7.10,0.00M379.0,462.5l-7.10,0.00M379.0,464.9l-7.10,0.00M379.0,467.2l-7.10,0.00M379.0,469.5l-7.10,0.00M379.0,471.8l-7.10,0.00M379.0,474.1l-7.10,0.00M379.0,476.5l-7.10,0.00M379.0,478.8l-7.10,0.00M379.0,481.1l-7.10,0.00M379.0,483.4l-7.10,0.00M379.0,485.7l-7.10,0.00M379.0,488.0l-7.10,0.00M379.0,490.4l-7.10,0.00M379.0,492.7l-7.10,0.00M379.0,495.0l-7.10,0.00" stroke="#888" stroke-width="0.45" fill="none"/>
<path d="M379.0,444.0L379.0,495.0M379.0,444.0l7.10,-0.00M379.0,446.3l7.10,-0.00M379.0,448.6l7.10,-0.00M379.0,451.0l7.10,-0.00M379.0,453.3l7.10,-0.00M379.0,455.6l7.10,-0.00M379.0,457.9l7.10,-0.00M379.0,460.2l7.10,-0.00M379.0,462.5l7.10,-0.00M379.0,464.9l7.10,-0.00M379.0,467.2l7.10,-0.00M379.0,469.5l7.10,-0.00M379.0,471.8l7.10,-0.00M379.0,474.1l7.10,-0.00M379.0,476.5l7.10,-0.00M379.0,478.8l7.10,-0.00M379.0,481.1l7.10,-0.00M379.0,483.4l7.10,-0.00M379.0,485.7l7.10,-0.00M379.0,488.0l7.10,-0.00M379.0,490.4l7.10,-0.00M379.0,492.7l7.10,-0.00M379.0,495.0l7.10,-0.00" stroke="#888" stroke-width="0.45" fill="none"/>
<rect x="-7.2" y="-3.0" width="14.3" height="6" rx="2.5" fill="none" stroke="#777" stroke-width="0.6" transform="translate(379.0,499) rotate(0)"/>
<rect x="-7.2" y="-2.5" width="14.3" height="5" rx="2.3" fill="none" stroke="#666" stroke-width="0.6" transform="translate(400.5,413.5) rotate(0)"/>
<rect x="393.4" y="416" width="14.2" height="9.4" fill="url(#xd)"/>
<path d="M400.5,425.4L400.5,437.0M400.5,425.4l-7.10,0.00M400.5,427.7l-7.10,0.00M400.5,430.0l-7.10,0.00M400.5,432.4l-7.10,0.00M400.5,434.7l-7.10,0.00M400.5,437.0l-7.10,0.00" stroke="#999" stroke-width="0.45" fill="none"/>
<path d="M400.5,425.4L400.5,437.0M400.5,425.4l7.10,-0.00M400.5,427.7l7.10,-0.00M400.5,430.0l7.10,-0.00M400.5,432.4l7.10,-0.00M400.5,434.7l7.10,-0.00M400.5,437.0l7.10,-0.00" stroke="#999" stroke-width="0.45" fill="none"/>
<rect x="393.4" y="437" width="14.2" height="4" fill="none" stroke="#555" stroke-width="0.8"/>
<line x1="398.0" y1="437" x2="398.0" y2="441" stroke="#444" stroke-width="1.2" />
<line x1="403.0" y1="437" x2="403.0" y2="441" stroke="#444" stroke-width="1.2" />
<path d="M400.5,444.0L400.5,495.0M400.5,444.0l-7.10,0.00M400.5,446.3l-7.10,0.00M400.5,448.6l-7.10,0.00M400.5,451.0l-7.10,0.00M400.5,453.3l-7.10,0.00M400.5,455.6l-7.10,0.00M400.5,457.9l-7.10,0.00M400.5,460.2l-7.10,0.00M400.5,462.5l-7.10,0.00M400.5,464.9l-7.10,0.00M400.5,467.2l-7.10,0.00M400.5,469.5l-7.10,0.00M400.5,471.8l-7.10,0.00M400.5,474.1l-7.10,0.00M400.5,476.5l-7.10,0.00M400.5,478.8l-7.10,0.00M400.5,481.1l-7.10,0.00M400.5,483.4l-7.10,0.00M400.5,485.7l-7.10,0.00M400.5,488.0l-7.10,0.00M400.5,490.4l-7.10,0.00M400.5,492.7l-7.10,0.00M400.5,495.0l-7.10,0.00" stroke="#888" stroke-width="0.45" fill="none"/>
<path d="M400.5,444.0L400.5,495.0M400.5,444.0l7.10,-0.00M400.5,446.3l7.10,-0.00M400.5,448.6l7.10,-0.00M400.5,451.0l7.10,-0.00M400.5,453.3l7.10,-0.00M400.5,455.6l7.10,-0.00M400.5,457.9l7.10,-0.00M400.5,460.2l7.10,-0.00M400.5,462.5l7.10,-0.00M400.5,464.9l7.10,-0.00M400.5,467.2l7.10,-0.00M400.5,469.5l7.10,-0.00M400.5,471.8l7.10,-0.00M400.5,474.1l7.10,-0.00M400.5,476.5l7.10,-0.00M400.5,478.8l7.10,-0.00M400.5,481.1l7.10,-0.00M400.5,483.4l7.10,-0.00M400.5,485.7l7.10,-0.00M400.5,488.0l7.10,-0.00M400.5,490.4l7.10,-0.00M400.5,492.7l7.10,-0.00M400.5,495.0l7.10,-0.00" stroke="#888" stroke-width="0.45" fill="none"/>
<rect x="-7.2" y="-3.0" width="14.3" height="6" rx="2.5" fill="none" stroke="#777" stroke-width="0.6" transform="translate(400.5,499) rotate(0)"/>
<rect x="-7.2" y="-2.5" width="14.3" height="5" rx="2.3" fill="none" stroke="#666" stroke-width="0.6" transform="translate(422.6,413.5) rotate(0)"/>
<rect x="415.5" y="416" width="14.2" height="9.4" fill="url(#xd)"/>
<path d="M422.6,425.4L422.6,437.0M422.6,425.4l-7.10,0.00M422.6,427.7l-7.10,0.00M422.6,430.0l-7.10,0.00M422.6,432.4l-7.10,0.00M422.6,434.7l-7.10,0.00M422.6,437.0l-7.10,0.00" stroke="#999" stroke-width="0.45" fill="none"/>
<path d="M422.6,425.4L422.6,437.0M422.6,425.4l7.10,-0.00M422.6,427.7l7.10,-0.00M422.6,430.0l7.10,-0.00M422.6,432.4l7.10,-0.00M422.6,434.7l7.10,-0.00M422.6,437.0l7.10,-0.00" stroke="#999" stroke-width="0.45" fill="none"/>
<rect x="415.5" y="437" width="14.2" height="4" fill="none" stroke="#555" stroke-width="0.8"/>
<line x1="420.1" y1="437" x2="420.1" y2="441" stroke="#444" stroke-width="1.2" />
<line x1="425.1" y1="437" x2="425.1" y2="441" stroke="#444" stroke-width="1.2" />
<path d="M422.6,444.0L422.6,495.0M422.6,444.0l-7.10,0.00M422.6,446.3l-7.10,0.00M422.6,448.6l-7.10,0.00M422.6,451.0l-7.10,0.00M422.6,453.3l-7.10,0.00M422.6,455.6l-7.10,0.00M422.6,457.9l-7.10,0.00M422.6,460.2l-7.10,0.00M422.6,462.5l-7.10,0.00M422.6,464.9l-7.10,0.00M422.6,467.2l-7.10,0.00M422.6,469.5l-7.10,0.00M422.6,471.8l-7.10,0.00M422.6,474.1l-7.10,0.00M422.6,476.5l-7.10,0.00M422.6,478.8l-7.10,0.00M422.6,481.1l-7.10,0.00M422.6,483.4l-7.10,0.00M422.6,485.7l-7.10,0.00M422.6,488.0l-7.10,0.00M422.6,490.4l-7.10,0.00M422.6,492.7l-7.10,0.00M422.6,495.0l-7.10,0.00" stroke="#888" stroke-width="0.45" fill="none"/>
<path d="M422.6,444.0L422.6,495.0M422.6,444.0l7.10,-0.00M422.6,446.3l7.10,-0.00M422.6,448.6l7.10,-0.00M422.6,451.0l7.10,-0.00M422.6,453.3l7.10,-0.00M422.6,455.6l7.10,-0.00M422.6,457.9l7.10,-0.00M422.6,460.2l7.10,-0.00M422.6,462.5l7.10,-0.00M422.6,464.9l7.10,-0.00M422.6,467.2l7.10,-0.00M422.6,469.5l7.10,-0.00M422.6,471.8l7.10,-0.00M422.6,474.1l7.10,-0.00M422.6,476.5l7.10,-0.00M422.6,478.8l7.10,-0.00M422.6,481.1l7.10,-0.00M422.6,483.4l7.10,-0.00M422.6,485.7l7.10,-0.00M422.6,488.0l7.10,-0.00M422.6,490.4l7.10,-0.00M422.6,492.7l7.10,-0.00M422.6,495.0l7.10,-0.00" stroke="#888" stroke-width="0.45" fill="none"/>
<rect x="-7.2" y="-3.0" width="14.3" height="6" rx="2.5" fill="none" stroke="#777" stroke-width="0.6" transform="translate(422.6,499) rotate(0)"/>
<path d="M441.5,417.0L441.5,497.0M441.5,417.0l4.00,-0.00M441.5,419.3l4.00,-0.00M441.5,421.6l4.00,-0.00M441.5,423.9l4.00,-0.00M441.5,426.1l4.00,-0.00M441.5,428.4l4.00,-0.00M441.5,430.7l4.00,-0.00M441.5,433.0l4.00,-0.00M441.5,435.3l4.00,-0.00M441.5,437.6l4.00,-0.00M441.5,439.9l4.00,-0.00M441.5,442.1l4.00,-0.00M441.5,444.4l4.00,-0.00M441.5,446.7l4.00,-0.00M441.5,449.0l4.00,-0.00M441.5,451.3l4.00,-0.00M441.5,453.6l4.00,-0.00M441.5,455.9l4.00,-0.00M441.5,458.1l4.00,-0.00M441.5,460.4l4.00,-0.00M441.5,462.7l4.00,-0.00M441.5,465.0l4.00,-0.00M441.5,467.3l4.00,-0.00M441.5,469.6l4.00,-0.00M441.5,471.9l4.00,-0.00M441.5,474.1l4.00,-0.00M441.5,476.4l4.00,-0.00M441.5,478.7l4.00,-0.00M441.5,481.0l4.00,-0.00M441.5,483.3l4.00,-0.00M441.5,485.6l4.00,-0.00M441.5,487.9l4.00,-0.00M441.5,490.1l4.00,-0.00M441.5,492.4l4.00,-0.00M441.5,494.7l4.00,-0.00M441.5,497.0l4.00,-0.00" stroke="#777" stroke-width="0.45" fill="none"/>
<path d="M445.5,417.0L445.5,497.0" stroke="#999" stroke-width="0.4" fill="none"/>
<path d="M358.0,430.0L358.0,505.0M358.0,430.0l-4.50,0.00M358.0,432.3l-4.50,0.00M358.0,434.5l-4.50,0.00M358.0,436.8l-4.50,0.00M358.0,439.1l-4.50,0.00M358.0,441.4l-4.50,0.00M358.0,443.6l-4.50,0.00M358.0,445.9l-4.50,0.00M358.0,448.2l-4.50,0.00M358.0,450.5l-4.50,0.00M358.0,452.7l-4.50,0.00M358.0,455.0l-4.50,0.00M358.0,457.3l-4.50,0.00M358.0,459.5l-4.50,0.00M358.0,461.8l-4.50,0.00M358.0,464.1l-4.50,0.00M358.0,466.4l-4.50,0.00M358.0,468.6l-4.50,0.00M358.0,470.9l-4.50,0.00M358.0,473.2l-4.50,0.00M358.0,475.5l-4.50,0.00M358.0,477.7l-4.50,0.00M358.0,480.0l-4.50,0.00M358.0,482.3l-4.50,0.00M358.0,484.5l-4.50,0.00M358.0,486.8l-4.50,0.00M358.0,489.1l-4.50,0.00M358.0,491.4l-4.50,0.00M358.0,493.6l-4.50,0.00M358.0,495.9l-4.50,0.00M358.0,498.2l-4.50,0.00M358.0,500.5l-4.50,0.00M358.0,502.7l-4.50,0.00M358.0,505.0l-4.50,0.00" stroke="#777" stroke-width="0.45" fill="none"/>
<path d="M353.5,430.0L353.5,505.0" stroke="#999" stroke-width="0.4" fill="none"/>
<line x1="360" y1="447.5" x2="446" y2="447.5" stroke="#888" stroke-width="0.5" stroke-dasharray="1.2,1" />
<line x1="360" y1="468" x2="446" y2="468" stroke="#666" stroke-width="0.8" />
<line x1="360" y1="466" x2="446" y2="466" stroke="#999" stroke-width="0.4" />
<path d="M370.0,511.0L442.0,511.0M370.0,511.0l-0.00,4.50M372.4,511.0l-0.00,4.50M374.8,511.0l-0.00,4.50M377.2,511.0l-0.00,4.50M379.6,511.0l-0.00,4.50M382.0,511.0l-0.00,4.50M384.4,511.0l-0.00,4.50M386.8,511.0l-0.00,4.50M389.2,511.0l-0.00,4.50M391.6,511.0l-0.00,4.50M394.0,511.0l-0.00,4.50M396.4,511.0l-0.00,4.50M398.8,511.0l-0.00,4.50M401.2,511.0l-0.00,4.50M403.6,511.0l-0.00,4.50M406.0,511.0l-0.00,4.50M408.4,511.0l-0.00,4.50M410.8,511.0l-0.00,4.50M413.2,511.0l-0.00,4.50M415.6,511.0l-0.00,4.50M418.0,511.0l-0.00,4.50M420.4,511.0l-0.00,4.50M422.8,511.0l-0.00,4.50M425.2,511.0l-0.00,4.50M427.6,511.0l-0.00,4.50M430.0,511.0l-0.00,4.50M432.4,511.0l-0.00,4.50M434.8,511.0l-0.00,4.50M437.2,511.0l-0.00,4.50M439.6,511.0l-0.00,4.50M442.0,511.0l-0.00,4.50" stroke="#777" stroke-width="0.45" fill="none"/>
<path d="M370.0,515.5L442.0,515.5" stroke="#999" stroke-width="0.4" fill="none"/>
<circle cx="373.0" cy="522.9" r="1.2" fill="none" stroke="#888" stroke-width="0.45"/>
<circle cx="379.2" cy="522.9" r="1.2" fill="none" stroke="#888" stroke-width="0.45"/>
<circle cx="385.4" cy="522.9" r="1.2" fill="none" stroke="#888" stroke-width="0.45"/>
<circle cx="391.6" cy="522.9" r="1.2" fill="none" stroke="#888" stroke-width="0.45"/>
<circle cx="397.8" cy="522.9" r="1.2" fill="none" stroke="#888" stroke-width="0.45"/>
<circle cx="404.0" cy="522.9" r="1.2" fill="none" stroke="#888" stroke-width="0.45"/>
<circle cx="410.2" cy="522.9" r="1.2" fill="none" stroke="#888" stroke-width="0.45"/>
<circle cx="416.4" cy="522.9" r="1.2" fill="none" stroke="#888" stroke-width="0.45"/>
<circle cx="422.6" cy="522.9" r="1.2" fill="none" stroke="#888" stroke-width="0.45"/>
<circle cx="428.8" cy="522.9" r="1.2" fill="none" stroke="#888" stroke-width="0.45"/>
<circle cx="435.0" cy="522.9" r="1.2" fill="none" stroke="#888" stroke-width="0.45"/>
<circle cx="441.2" cy="522.9" r="1.2" fill="none" stroke="#888" stroke-width="0.45"/>
<path d="M356,420 Q356,413 362,412 L446,412" fill="none" stroke="#888" stroke-width="0.5"/>
<path d="M288,505 Q288,518 300,518 L446,518" fill="none" stroke="#888" stroke-width="0.5"/>
<path d="M286,425 L286,505" fill="none" stroke="#888" stroke-width="0.5"/>
<line x1="353" y1="420" x2="353" y2="512" stroke="#999" stroke-width="0.5" />
<polyline points="278.3,527.6 278.3,415.2" fill="none" stroke="#333" stroke-width="1.1" />
<polyline points="248.3,413.0 248.3,528.0" fill="none" stroke="#333" stroke-width="1.0" stroke-dasharray="19,6.3,1.6,6.3" />
<polyline points="248.5,413.0 267.4,400.0" fill="none" stroke="#333" stroke-width="1.0" />
<polyline points="278.5,416.0 283.8,425.1 301.4,415.7" fill="none" stroke="#333" stroke-width="1.0" />
<polyline points="314.0,400.0 331.5,391.8" fill="none" stroke="#333" stroke-width="1.0" />
<polyline points="110.0,528.0 446.0,528.8" fill="none" stroke="#333" stroke-width="1.1" stroke-dasharray="19,6.3,1.6,6.3" />
<polyline points="123.5,412.7 116.3,425.9 138.5,549.4" fill="none" stroke="#444" stroke-width="0.9" />
<polyline points="100.0,426.0 117.5,507.4" fill="none" stroke="#999" stroke-width="0.5" />
<polyline points="103.0,426.0 120.5,507.4" fill="none" stroke="#999" stroke-width="0.5" />
<polyline points="111.0,418.5 111.0,526.8" fill="none" stroke="#555" stroke-width="0.9" stroke-dasharray="19,6.3,1.6,6.3" />
<path d="M118,519 L225.7,517 L241.9,512.2" fill="none" stroke="#aaa" stroke-width="0.6"/>
<path d="M118,521 L225.7,519 L241.9,514.2" fill="none" stroke="#bbb" stroke-width="0.5"/>
<path d="M132,518.5 l2,1.8 l2,-1.8 l2,1.8 l2,-1.8" fill="none" stroke="#888" stroke-width="0.45"/>
<path d="M140,518.5 l2,1.8 l2,-1.8 l2,1.8 l2,-1.8" fill="none" stroke="#888" stroke-width="0.45"/>
<path d="M148,518.5 l2,1.8 l2,-1.8 l2,1.8 l2,-1.8" fill="none" stroke="#888" stroke-width="0.45"/>
<path d="M156,518.5 l2,1.8 l2,-1.8 l2,1.8 l2,-1.8" fill="none" stroke="#888" stroke-width="0.45"/>
<path d="M164,518.5 l2,1.8 l2,-1.8 l2,1.8 l2,-1.8" fill="none" stroke="#888" stroke-width="0.45"/>
<path d="M172,518.5 l2,1.8 l2,-1.8 l2,1.8 l2,-1.8" fill="none" stroke="#888" stroke-width="0.45"/>
<path d="M180,518.5 l2,1.8 l2,-1.8 l2,1.8 l2,-1.8" fill="none" stroke="#888" stroke-width="0.45"/>
<path d="M188,518.5 l2,1.8 l2,-1.8 l2,1.8 l2,-1.8" fill="none" stroke="#888" stroke-width="0.45"/>
<path d="M196,518.5 l2,1.8 l2,-1.8 l2,1.8 l2,-1.8" fill="none" stroke="#888" stroke-width="0.45"/>
<path d="M204,518.5 l2,1.8 l2,-1.8 l2,1.8 l2,-1.8" fill="none" stroke="#888" stroke-width="0.45"/>
<path d="M212,518.5 l2,1.8 l2,-1.8 l2,1.8 l2,-1.8" fill="none" stroke="#888" stroke-width="0.45"/>
<path d="M220,518.5 l2,1.8 l2,-1.8 l2,1.8 l2,-1.8" fill="none" stroke="#888" stroke-width="0.45"/>
<text x="0" y="0" font-size="4.4" font-weight="normal" fill="#777" text-anchor="start" textLength="46.6" lengthAdjust="spacingAndGlyphs" transform="translate(330.7,541.8)">SEWER EASEMENT</text>
<polyline points="312.7,523.8 322.7,537.6 329.0,540.0" fill="none" stroke="#999" stroke-width="0.5" />
<polyline points="140.0,530.0 145.0,560.0" fill="none" stroke="#ccc" stroke-width="0.5" stroke-dasharray="1.5,1" />
<polyline points="280.0,530.0 290.0,560.0" fill="none" stroke="#ccc" stroke-width="0.5" stroke-dasharray="1.5,1" />
<polyline points="240.0,345.3 255.5,378.5 268.7,400.6" fill="none" stroke="#333" stroke-width="1.1" />
<polyline points="306.3,307.7 326.2,354.1 350.6,387.3" fill="none" stroke="#333" stroke-width="1.1" />
<polyline points="350.6,387.3 368.3,377.3" fill="none" stroke="#333" stroke-width="0.9" />
<polyline points="386.0,290.0 401.4,321.0 416.9,351.9" fill="none" stroke="#333" stroke-width="1.0" />
<polyline points="368.3,377.3 368.3,409.4 446.0,408.5" fill="none" stroke="#333" stroke-width="1.0" stroke-dasharray="19,6.3,1.6,6.3" />
<rect x="-29.0" y="-13.0" width="58" height="26" rx="6" fill="none" stroke="#777" stroke-width="0.6" transform="translate(300.5,379.5) rotate(-25)"/>
<rect x="-24.0" y="-6.5" width="48" height="13" rx="6" fill="none" stroke="#888" stroke-width="0.6" transform="translate(297.5,353.5) rotate(-9)"/>
<path d="M278.5,352.0L300.0,348.5M278.5,352.0l0.56,3.45M280.9,351.6l0.56,3.45M283.3,351.2l0.56,3.45M285.7,350.8l0.56,3.45M288.1,350.4l0.56,3.45M290.4,350.1l0.56,3.45M292.8,349.7l0.56,3.45M295.2,349.3l0.56,3.45M297.6,348.9l0.56,3.45M300.0,348.5l0.56,3.45" stroke="#888" stroke-width="0.5" fill="none"/>
<path d="M280.5,381.5l-1.70,-3.62M282.6,380.5l-1.70,-3.62M284.8,379.5l-1.70,-3.62M286.9,378.5l-1.70,-3.62M289.0,377.5l-1.70,-3.62M291.1,376.5l-1.70,-3.62M293.2,375.5l-1.70,-3.62M295.4,374.5l-1.70,-3.62M297.5,373.5l-1.70,-3.62M299.6,372.5l-1.70,-3.62M301.8,371.5l-1.70,-3.62M303.9,370.5l-1.70,-3.62M306.0,369.5l-1.70,-3.62" stroke="#777" stroke-width="0.5" fill="none"/>
<circle cx="276" cy="385" r="1" fill="none" stroke="#888" stroke-width="0.45"/>
<circle cx="279" cy="391" r="1" fill="none" stroke="#888" stroke-width="0.45"/>
<circle cx="318" cy="362" r="1" fill="none" stroke="#888" stroke-width="0.45"/>
<circle cx="322.5" cy="369" r="1" fill="none" stroke="#888" stroke-width="0.45"/>
<rect x="-32.0" y="-17.0" width="64" height="34" rx="6" fill="none" stroke="#888" stroke-width="0.5" transform="translate(374,352) rotate(-22)"/>
<rect x="-28.0" y="-13.0" width="56" height="26" rx="2" fill="none" stroke="#aaa" stroke-width="0.35" transform="translate(374,352) rotate(-22)"/>
<path d="M399.5,329.8l-3.71,1.50M400.5,332.1l-3.71,1.50M401.4,334.3l-3.71,1.50M402.3,336.6l-3.71,1.50M403.2,338.9l-3.71,1.50M404.1,341.1l-3.71,1.50M405.0,343.4l-3.71,1.50M406.0,345.7l-3.71,1.50M406.9,347.9l-3.71,1.50M407.8,350.2l-3.71,1.50" stroke="#6c6c6c" stroke-width="0.5" fill="none"/>
<path d="M343.5,346.0l1.50,3.71M345.7,345.1l1.50,3.71M347.9,344.2l1.50,3.71M350.1,343.3l1.50,3.71M352.3,342.4l1.50,3.71M354.5,341.6l1.50,3.71M356.7,340.7l1.50,3.71M358.9,339.8l1.50,3.71M361.1,338.9l1.50,3.71M363.2,338.0l1.50,3.71M365.4,337.1l1.50,3.71M367.6,336.2l1.50,3.71M369.8,335.4l1.50,3.71M372.0,334.5l1.50,3.71M374.2,333.6l1.50,3.71M376.4,332.7l1.50,3.71M378.6,331.8l1.50,3.71M380.8,330.9l1.50,3.71M383.0,330.0l1.50,3.71M385.2,329.2l1.50,3.71M387.4,328.3l1.50,3.71M389.5,327.4l1.50,3.71M391.7,326.5l1.50,3.71" stroke="#6c6c6c" stroke-width="0.5" fill="none"/>
<polyline points="340.0,322.0 398.0,300.0" fill="none" stroke="#bbb" stroke-width="0.5" stroke-dasharray="1.5,1" />
<path d="M388.2,296.6L416.9,347.5M388.2,296.6l3.66,-2.06M389.3,298.6l3.66,-2.06M390.5,300.7l3.66,-2.06M391.6,302.7l3.66,-2.06M392.8,304.7l3.66,-2.06M393.9,306.8l3.66,-2.06M395.1,308.8l3.66,-2.06M396.2,310.9l3.66,-2.06M397.4,312.9l3.66,-2.06M398.5,314.9l3.66,-2.06M399.7,317.0l3.66,-2.06M400.8,319.0l3.66,-2.06M402.0,321.0l3.66,-2.06M403.1,323.1l3.66,-2.06M404.3,325.1l3.66,-2.06M405.4,327.1l3.66,-2.06M406.6,329.2l3.66,-2.06M407.7,331.2l3.66,-2.06M408.9,333.2l3.66,-2.06M410.0,335.3l3.66,-2.06M411.2,337.3l3.66,-2.06M412.3,339.4l3.66,-2.06M413.5,341.4l3.66,-2.06M414.6,343.4l3.66,-2.06M415.8,345.5l3.66,-2.06M416.9,347.5l3.66,-2.06" stroke="#6c6c6c" stroke-width="0.5" fill="none"/>
<path d="M391.9,294.5L420.6,345.4" stroke="#999" stroke-width="0.4" fill="none"/>
<path d="M283.0,408.0L356.0,384.0M283.0,408.0l-1.56,-4.75M285.3,407.2l-1.56,-4.75M287.6,406.5l-1.56,-4.75M289.8,405.8l-1.56,-4.75M292.1,405.0l-1.56,-4.75M294.4,404.2l-1.56,-4.75M296.7,403.5l-1.56,-4.75M299.0,402.8l-1.56,-4.75M301.2,402.0l-1.56,-4.75M303.5,401.2l-1.56,-4.75M305.8,400.5l-1.56,-4.75M308.1,399.8l-1.56,-4.75M310.4,399.0l-1.56,-4.75M312.7,398.2l-1.56,-4.75M314.9,397.5l-1.56,-4.75M317.2,396.8l-1.56,-4.75M319.5,396.0l-1.56,-4.75M321.8,395.2l-1.56,-4.75M324.1,394.5l-1.56,-4.75M326.3,393.8l-1.56,-4.75M328.6,393.0l-1.56,-4.75M330.9,392.2l-1.56,-4.75M333.2,391.5l-1.56,-4.75M335.5,390.8l-1.56,-4.75M337.8,390.0l-1.56,-4.75M340.0,389.2l-1.56,-4.75M342.3,388.5l-1.56,-4.75M344.6,387.8l-1.56,-4.75M346.9,387.0l-1.56,-4.75M349.2,386.2l-1.56,-4.75M351.4,385.5l-1.56,-4.75M353.7,384.8l-1.56,-4.75M356.0,384.0l-1.56,-4.75" stroke="#6c6c6c" stroke-width="0.5" fill="none"/>
<path d="M281.4,403.3L354.4,379.3" stroke="#999" stroke-width="0.4" fill="none"/>
<path d="M290.0,418.0L360.0,392.0M290.0,418.0l1.74,4.69M292.3,417.2l1.74,4.69M294.5,416.3l1.74,4.69M296.8,415.5l1.74,4.69M299.0,414.6l1.74,4.69M301.3,413.8l1.74,4.69M303.5,413.0l1.74,4.69M305.8,412.1l1.74,4.69M308.1,411.3l1.74,4.69M310.3,410.5l1.74,4.69M312.6,409.6l1.74,4.69M314.8,408.8l1.74,4.69M317.1,407.9l1.74,4.69M319.4,407.1l1.74,4.69M321.6,406.3l1.74,4.69M323.9,405.4l1.74,4.69M326.1,404.6l1.74,4.69M328.4,403.7l1.74,4.69M330.6,402.9l1.74,4.69M332.9,402.1l1.74,4.69M335.2,401.2l1.74,4.69M337.4,400.4l1.74,4.69M339.7,399.5l1.74,4.69M341.9,398.7l1.74,4.69M344.2,397.9l1.74,4.69M346.5,397.0l1.74,4.69M348.7,396.2l1.74,4.69M351.0,395.4l1.74,4.69M353.2,394.5l1.74,4.69M355.5,393.7l1.74,4.69M357.7,392.8l1.74,4.69M360.0,392.0l1.74,4.69" stroke="#6c6c6c" stroke-width="0.5" fill="none"/>
<path d="M291.7,422.7L361.7,396.7" stroke="#999" stroke-width="0.4" fill="none"/>
<path d="M270.0,330.0L300.0,316.0M270.0,330.0l1.48,3.17M272.1,329.0l1.48,3.17M274.3,328.0l1.48,3.17M276.4,327.0l1.48,3.17M278.6,326.0l1.48,3.17M280.7,325.0l1.48,3.17M282.9,324.0l1.48,3.17M285.0,323.0l1.48,3.17M287.1,322.0l1.48,3.17M289.3,321.0l1.48,3.17M291.4,320.0l1.48,3.17M293.6,319.0l1.48,3.17M295.7,318.0l1.48,3.17M297.9,317.0l1.48,3.17M300.0,316.0l1.48,3.17" stroke="#6c6c6c" stroke-width="0.5" fill="none"/>
<path d="M271.5,333.2L301.5,319.2" stroke="#999" stroke-width="0.4" fill="none"/>
<line x1="311" y1="324" x2="322" y2="350" stroke="#999" stroke-width="0.5" />
<line x1="314" y1="322" x2="325" y2="348" stroke="#999" stroke-width="0.5" />
<rect x="-15.0" y="-11.0" width="30" height="22" rx="3" fill="none" stroke="#999" stroke-width="0.5" transform="translate(401,390) rotate(-27)"/>
<path d="M359.5,394.0L359.5,414.0M359.5,394.0l-3.20,0.00M359.5,396.2l-3.20,0.00M359.5,398.4l-3.20,0.00M359.5,400.7l-3.20,0.00M359.5,402.9l-3.20,0.00M359.5,405.1l-3.20,0.00M359.5,407.3l-3.20,0.00M359.5,409.6l-3.20,0.00M359.5,411.8l-3.20,0.00M359.5,414.0l-3.20,0.00" stroke="#6c6c6c" stroke-width="0.5" fill="none"/>
<path d="M356.3,394.0L356.3,414.0" stroke="#999" stroke-width="0.4" fill="none"/>
<path d="M359.5,394.0l3.20,-0.00M359.5,396.2l3.20,-0.00M359.5,398.4l3.20,-0.00M359.5,400.7l3.20,-0.00M359.5,402.9l3.20,-0.00M359.5,405.1l3.20,-0.00M359.5,407.3l3.20,-0.00M359.5,409.6l3.20,-0.00M359.5,411.8l3.20,-0.00M359.5,414.0l3.20,-0.00" stroke="#6c6c6c" stroke-width="0.5" fill="none"/>
<path d="M362.7,394.0L362.7,414.0" stroke="#999" stroke-width="0.4" fill="none"/>
<path d="M420.0,352.0L436.0,405.0M420.0,352.0l4.02,-1.21M420.7,354.2l4.02,-1.21M421.3,356.4l4.02,-1.21M422.0,358.6l4.02,-1.21M422.7,360.8l4.02,-1.21M423.3,363.0l4.02,-1.21M424.0,365.2l4.02,-1.21M424.7,367.5l4.02,-1.21M425.3,369.7l4.02,-1.21M426.0,371.9l4.02,-1.21M426.7,374.1l4.02,-1.21M427.3,376.3l4.02,-1.21M428.0,378.5l4.02,-1.21M428.7,380.7l4.02,-1.21M429.3,382.9l4.02,-1.21M430.0,385.1l4.02,-1.21M430.7,387.3l4.02,-1.21M431.3,389.5l4.02,-1.21M432.0,391.8l4.02,-1.21M432.7,394.0l4.02,-1.21M433.3,396.2l4.02,-1.21M434.0,398.4l4.02,-1.21M434.7,400.6l4.02,-1.21M435.3,402.8l4.02,-1.21M436.0,405.0l4.02,-1.21" stroke="#6c6c6c" stroke-width="0.5" fill="none"/>
<path d="M424.0,350.8L440.0,403.8" stroke="#999" stroke-width="0.4" fill="none"/>
<polyline points="400.4,257.0 422.2,305.0" fill="none" stroke="#333" stroke-width="1.1" />
<polyline points="449.4,235.9 456.2,254.9" fill="none" stroke="#333" stroke-width="1.0" />
<polyline points="475.1,226.4 482.7,247.7" fill="none" stroke="#333" stroke-width="1.0" />
<polyline points="522.8,213.8 529.0,236.4 541.6,300.2" fill="none" stroke="#333" stroke-width="1.0" />
<polyline points="476.2,226.3 483.0,247.5" fill="none" stroke="#333" stroke-width="1.0" />
<polyline points="569.0,205.0 575.5,260.0 581.5,299.0" fill="none" stroke="#333" stroke-width="1.0" />
<polyline points="644.5,205.0 646.0,238.0" fill="none" stroke="#333" stroke-width="1.0" />
<polyline points="473.6,304.5 480.4,323.5" fill="none" stroke="#333" stroke-width="1.0" />
<polyline points="499.5,295.0 506.3,314.0" fill="none" stroke="#333" stroke-width="1.0" />
<polyline points="538.9,284.1 543.0,304.5" fill="none" stroke="#333" stroke-width="1.0" />
<polyline points="468.2,328.3 488.6,320.8" fill="none" stroke="#333" stroke-width="1.0" />
<polyline points="502.2,316.0 521.2,310.6" fill="none" stroke="#333" stroke-width="1.0" />
<polyline points="536.2,306.5 566.1,301.1" fill="none" stroke="#333" stroke-width="1.0" />
<polyline points="585.0,300.0 600.0,298.0" fill="none" stroke="#333" stroke-width="1.0" />
<path d="M406.0,263.0L450.0,248.0M406.0,263.0l0.97,2.84M408.3,262.2l0.97,2.84M410.6,261.4l0.97,2.84M412.9,260.6l0.97,2.84M415.3,259.8l0.97,2.84M417.6,259.1l0.97,2.84M419.9,258.3l0.97,2.84M422.2,257.5l0.97,2.84M424.5,256.7l0.97,2.84M426.8,255.9l0.97,2.84M429.2,255.1l0.97,2.84M431.5,254.3l0.97,2.84M433.8,253.5l0.97,2.84M436.1,252.7l0.97,2.84M438.4,251.9l0.97,2.84M440.7,251.2l0.97,2.84M443.1,250.4l0.97,2.84M445.4,249.6l0.97,2.84M447.7,248.8l0.97,2.84M450.0,248.0l0.97,2.84" stroke="#6c6c6c" stroke-width="0.5" fill="none"/>
<path d="M407.0,265.8L451.0,250.8" stroke="#999" stroke-width="0.4" fill="none"/>
<path d="M454.0,238.0L475.0,231.0M454.0,238.0l0.95,2.85M456.3,237.2l0.95,2.85M458.7,236.4l0.95,2.85M461.0,235.7l0.95,2.85M463.3,234.9l0.95,2.85M465.7,234.1l0.95,2.85M468.0,233.3l0.95,2.85M470.3,232.6l0.95,2.85M472.7,231.8l0.95,2.85M475.0,231.0l0.95,2.85" stroke="#6c6c6c" stroke-width="0.5" fill="none"/>
<path d="M454.9,240.8L475.9,233.8" stroke="#999" stroke-width="0.4" fill="none"/>
<path d="M414.0,274.0L436.0,306.0M414.0,274.0l-3.30,2.27M415.3,275.9l-3.30,2.27M416.6,277.8l-3.30,2.27M417.9,279.6l-3.30,2.27M419.2,281.5l-3.30,2.27M420.5,283.4l-3.30,2.27M421.8,285.3l-3.30,2.27M423.1,287.2l-3.30,2.27M424.4,289.1l-3.30,2.27M425.6,290.9l-3.30,2.27M426.9,292.8l-3.30,2.27M428.2,294.7l-3.30,2.27M429.5,296.6l-3.30,2.27M430.8,298.5l-3.30,2.27M432.1,300.4l-3.30,2.27M433.4,302.2l-3.30,2.27M434.7,304.1l-3.30,2.27M436.0,306.0l-3.30,2.27" stroke="#6c6c6c" stroke-width="0.5" fill="none"/>
<path d="M410.7,276.3L432.7,308.3" stroke="#999" stroke-width="0.4" fill="none"/>
<rect x="-13.0" y="-22.0" width="26" height="44" rx="6" fill="none" stroke="#888" stroke-width="0.5" transform="translate(448,282) rotate(-18)"/>
<rect x="-9.0" y="-18.0" width="18" height="36" rx="2" fill="none" stroke="#aaa" stroke-width="0.35" transform="translate(448,282) rotate(-18)"/>
<path d="M430.7,270.8l3.80,-1.24M431.4,273.0l3.80,-1.24M432.1,275.1l3.80,-1.24M432.8,277.3l3.80,-1.24M433.5,279.5l3.80,-1.24M434.2,281.7l3.80,-1.24M434.9,283.8l3.80,-1.24M435.6,286.0l3.80,-1.24M436.3,288.2l3.80,-1.24M437.0,290.4l3.80,-1.24M437.8,292.5l3.80,-1.24M438.5,294.7l3.80,-1.24M439.2,296.9l3.80,-1.24M439.9,299.1l3.80,-1.24M440.6,301.2l3.80,-1.24" stroke="#6c6c6c" stroke-width="0.5" fill="none"/>
<path d="M455.4,262.8l-3.80,1.24M456.1,264.9l-3.80,1.24M456.8,267.1l-3.80,1.24M457.5,269.3l-3.80,1.24M458.2,271.5l-3.80,1.24M459.0,273.6l-3.80,1.24M459.7,275.8l-3.80,1.24M460.4,278.0l-3.80,1.24M461.1,280.2l-3.80,1.24M461.8,282.3l-3.80,1.24M462.5,284.5l-3.80,1.24M463.2,286.7l-3.80,1.24M463.9,288.9l-3.80,1.24M464.6,291.0l-3.80,1.24M465.3,293.2l-3.80,1.24" stroke="#6c6c6c" stroke-width="0.5" fill="none"/>
<rect x="-10.0" y="-21.0" width="20" height="42" rx="7" fill="none" stroke="#888" stroke-width="0.5" transform="translate(477,278) rotate(-15)"/>
<rect x="-7.0" y="-18.0" width="14" height="36" rx="4" fill="none" stroke="#aaa" stroke-width="0.35" transform="translate(477,278) rotate(-15)"/>
<path d="M463.7,267.1l2.90,-0.78M464.3,269.1l2.90,-0.78M464.8,271.2l2.90,-0.78M465.4,273.3l2.90,-0.78M465.9,275.4l2.90,-0.78M466.5,277.5l2.90,-0.78M467.1,279.5l2.90,-0.78M467.6,281.6l2.90,-0.78M468.2,283.7l2.90,-0.78M468.7,285.8l2.90,-0.78M469.3,287.9l2.90,-0.78M469.8,290.0l2.90,-0.78M470.4,292.0l2.90,-0.78M471.0,294.1l2.90,-0.78" stroke="#6c6c6c" stroke-width="0.5" fill="none"/>
<path d="M483.0,261.9l-2.90,0.78M483.6,264.0l-2.90,0.78M484.2,266.0l-2.90,0.78M484.7,268.1l-2.90,0.78M485.3,270.2l-2.90,0.78M485.8,272.3l-2.90,0.78M486.4,274.4l-2.90,0.78M486.9,276.5l-2.90,0.78M487.5,278.5l-2.90,0.78M488.1,280.6l-2.90,0.78M488.6,282.7l-2.90,0.78M489.2,284.8l-2.90,0.78M489.7,286.9l-2.90,0.78M490.3,288.9l-2.90,0.78" stroke="#6c6c6c" stroke-width="0.5" fill="none"/>
<rect x="-19.0" y="-23.0" width="38" height="46" rx="6" fill="none" stroke="#888" stroke-width="0.5" transform="translate(512.5,266) rotate(-14)"/>
<rect x="-15.0" y="-19.0" width="30" height="38" rx="2" fill="none" stroke="#aaa" stroke-width="0.35" transform="translate(512.5,266) rotate(-14)"/>
<path d="M490.0,254.1l3.88,-0.97M490.5,256.3l3.88,-0.97M491.0,258.5l3.88,-0.97M491.6,260.7l3.88,-0.97M492.1,262.9l3.88,-0.97M492.7,265.1l3.88,-0.97M493.2,267.3l3.88,-0.97M493.8,269.5l3.88,-0.97M494.3,271.7l3.88,-0.97M494.9,273.9l3.88,-0.97M495.4,276.1l3.88,-0.97M496.0,278.3l3.88,-0.97M496.5,280.5l3.88,-0.97M497.1,282.7l3.88,-0.97M497.6,284.9l3.88,-0.97M498.2,287.1l3.88,-0.97" stroke="#6c6c6c" stroke-width="0.5" fill="none"/>
<path d="M526.8,244.9l-3.88,0.97M527.4,247.1l-3.88,0.97M527.9,249.3l-3.88,0.97M528.5,251.5l-3.88,0.97M529.0,253.7l-3.88,0.97M529.6,255.9l-3.88,0.97M530.1,258.1l-3.88,0.97M530.7,260.3l-3.88,0.97M531.2,262.5l-3.88,0.97M531.8,264.7l-3.88,0.97M532.3,266.9l-3.88,0.97M532.9,269.1l-3.88,0.97M533.4,271.3l-3.88,0.97M534.0,273.5l-3.88,0.97M534.5,275.7l-3.88,0.97M535.0,277.9l-3.88,0.97" stroke="#6c6c6c" stroke-width="0.5" fill="none"/>
<path d="M494.3,246.8l0.97,3.88M496.6,246.3l0.97,3.88M498.9,245.7l0.97,3.88M501.2,245.1l0.97,3.88M503.5,244.5l0.97,3.88M505.8,244.0l0.97,3.88M508.1,243.4l0.97,3.88M510.4,242.8l0.97,3.88M512.7,242.3l0.97,3.88M515.0,241.7l0.97,3.88M517.3,241.1l0.97,3.88M519.5,240.5l0.97,3.88" stroke="#6c6c6c" stroke-width="0.5" fill="none"/>
<path d="M505.5,291.5l-0.97,-3.88M507.7,290.9l-0.97,-3.88M510.0,290.3l-0.97,-3.88M512.3,289.7l-0.97,-3.88M514.6,289.2l-0.97,-3.88M516.9,288.6l-0.97,-3.88M519.2,288.0l-0.97,-3.88M521.5,287.5l-0.97,-3.88M523.8,286.9l-0.97,-3.88M526.1,286.3l-0.97,-3.88M528.4,285.7l-0.97,-3.88M530.7,285.2l-0.97,-3.88" stroke="#6c6c6c" stroke-width="0.5" fill="none"/>
<rect x="-17.0" y="-22.0" width="34" height="44" rx="6" fill="none" stroke="#888" stroke-width="0.5" transform="translate(553,258) rotate(-9)"/>
<rect x="-13.0" y="-18.0" width="26" height="36" rx="2" fill="none" stroke="#aaa" stroke-width="0.35" transform="translate(553,258) rotate(-9)"/>
<path d="M533.7,244.9l3.95,-0.63M534.1,247.1l3.95,-0.63M534.4,249.4l3.95,-0.63M534.8,251.6l3.95,-0.63M535.1,253.9l3.95,-0.63M535.5,256.1l3.95,-0.63M535.9,258.4l3.95,-0.63M536.2,260.7l3.95,-0.63M536.6,262.9l3.95,-0.63M536.9,265.2l3.95,-0.63M537.3,267.4l3.95,-0.63M537.6,269.7l3.95,-0.63M538.0,271.9l3.95,-0.63M538.4,274.2l3.95,-0.63M538.7,276.5l3.95,-0.63" stroke="#6c6c6c" stroke-width="0.5" fill="none"/>
<path d="M567.3,239.5l-3.95,0.63M567.6,241.8l-3.95,0.63M568.0,244.1l-3.95,0.63M568.4,246.3l-3.95,0.63M568.7,248.6l-3.95,0.63M569.1,250.8l-3.95,0.63M569.4,253.1l-3.95,0.63M569.8,255.3l-3.95,0.63M570.1,257.6l-3.95,0.63M570.5,259.9l-3.95,0.63M570.9,262.1l-3.95,0.63M571.2,264.4l-3.95,0.63M571.6,266.6l-3.95,0.63M571.9,268.9l-3.95,0.63M572.3,271.1l-3.95,0.63" stroke="#6c6c6c" stroke-width="0.5" fill="none"/>
<path d="M545.6,281.4l-0.63,-3.95M547.7,281.1l-0.63,-3.95M549.9,280.8l-0.63,-3.95M552.1,280.4l-0.63,-3.95M554.3,280.1l-0.63,-3.95M556.4,279.7l-0.63,-3.95M558.6,279.4l-0.63,-3.95M560.8,279.0l-0.63,-3.95M563.0,278.7l-0.63,-3.95M565.1,278.4l-0.63,-3.95M567.3,278.0l-0.63,-3.95" stroke="#6c6c6c" stroke-width="0.5" fill="none"/>
<rect x="-19.0" y="-25.0" width="38" height="50" rx="7" fill="none" stroke="#888" stroke-width="0.5" transform="translate(598,251) rotate(0)"/>
<rect x="-15.0" y="-21.0" width="30" height="42" rx="3" fill="none" stroke="#aaa" stroke-width="0.35" transform="translate(598,251) rotate(0)"/>
<path d="M579.0,233.0l4.00,-0.00M579.0,235.2l4.00,-0.00M579.0,237.5l4.00,-0.00M579.0,239.8l4.00,-0.00M579.0,242.0l4.00,-0.00M579.0,244.2l4.00,-0.00M579.0,246.5l4.00,-0.00M579.0,248.8l4.00,-0.00M579.0,251.0l4.00,-0.00M579.0,253.2l4.00,-0.00M579.0,255.5l4.00,-0.00M579.0,257.8l4.00,-0.00M579.0,260.0l4.00,-0.00M579.0,262.2l4.00,-0.00M579.0,264.5l4.00,-0.00M579.0,266.8l4.00,-0.00M579.0,269.0l4.00,-0.00" stroke="#6c6c6c" stroke-width="0.5" fill="none"/>
<path d="M617.0,233.0l-4.00,0.00M617.0,235.2l-4.00,0.00M617.0,237.5l-4.00,0.00M617.0,239.8l-4.00,0.00M617.0,242.0l-4.00,0.00M617.0,244.2l-4.00,0.00M617.0,246.5l-4.00,0.00M617.0,248.8l-4.00,0.00M617.0,251.0l-4.00,0.00M617.0,253.2l-4.00,0.00M617.0,255.5l-4.00,0.00M617.0,257.8l-4.00,0.00M617.0,260.0l-4.00,0.00M617.0,262.2l-4.00,0.00M617.0,264.5l-4.00,0.00M617.0,266.8l-4.00,0.00M617.0,269.0l-4.00,0.00" stroke="#6c6c6c" stroke-width="0.5" fill="none"/>
<path d="M586.0,276.0l0.00,-4.00M588.4,276.0l0.00,-4.00M590.8,276.0l0.00,-4.00M593.2,276.0l0.00,-4.00M595.6,276.0l0.00,-4.00M598.0,276.0l0.00,-4.00M600.4,276.0l0.00,-4.00M602.8,276.0l0.00,-4.00M605.2,276.0l0.00,-4.00M607.6,276.0l0.00,-4.00M610.0,276.0l0.00,-4.00" stroke="#6c6c6c" stroke-width="0.5" fill="none"/>
<path d="M634.0,240.0L636.0,278.0M634.0,240.0l-4.49,0.24M634.1,242.2l-4.49,0.24M634.2,244.5l-4.49,0.24M634.4,246.7l-4.49,0.24M634.5,248.9l-4.49,0.24M634.6,251.2l-4.49,0.24M634.7,253.4l-4.49,0.24M634.8,255.6l-4.49,0.24M634.9,257.9l-4.49,0.24M635.1,260.1l-4.49,0.24M635.2,262.4l-4.49,0.24M635.3,264.6l-4.49,0.24M635.4,266.8l-4.49,0.24M635.5,269.1l-4.49,0.24M635.6,271.3l-4.49,0.24M635.8,273.5l-4.49,0.24M635.9,275.8l-4.49,0.24M636.0,278.0l-4.49,0.24" stroke="#6c6c6c" stroke-width="0.5" fill="none"/>
<path d="M629.5,240.2L631.5,278.2" stroke="#999" stroke-width="0.4" fill="none"/>
<path d="M574.0,213.4L644.5,217.4M574.0,213.4l-0.23,3.99M576.4,213.5l-0.23,3.99M578.9,213.7l-0.23,3.99M581.3,213.8l-0.23,3.99M583.7,214.0l-0.23,3.99M586.2,214.1l-0.23,3.99M588.6,214.2l-0.23,3.99M591.0,214.4l-0.23,3.99M593.4,214.5l-0.23,3.99M595.9,214.6l-0.23,3.99M598.3,214.8l-0.23,3.99M600.7,214.9l-0.23,3.99M603.2,215.1l-0.23,3.99M605.6,215.2l-0.23,3.99M608.0,215.3l-0.23,3.99M610.5,215.5l-0.23,3.99M612.9,215.6l-0.23,3.99M615.3,215.7l-0.23,3.99M617.8,215.9l-0.23,3.99M620.2,216.0l-0.23,3.99M622.6,216.2l-0.23,3.99M625.1,216.3l-0.23,3.99M627.5,216.4l-0.23,3.99M629.9,216.6l-0.23,3.99M632.3,216.7l-0.23,3.99M634.8,216.8l-0.23,3.99M637.2,217.0l-0.23,3.99M639.6,217.1l-0.23,3.99M642.1,217.3l-0.23,3.99M644.5,217.4l-0.23,3.99" stroke="#6c6c6c" stroke-width="0.5" fill="none"/>
<path d="M573.8,217.4L644.3,221.4" stroke="#999" stroke-width="0.4" fill="none"/>
<path d="M478.0,235.0L522.0,224.5M478.0,235.0l0.81,3.40M480.3,234.4l0.81,3.40M482.6,233.9l0.81,3.40M484.9,233.3l0.81,3.40M487.3,232.8l0.81,3.40M489.6,232.2l0.81,3.40M491.9,231.7l0.81,3.40M494.2,231.1l0.81,3.40M496.5,230.6l0.81,3.40M498.8,230.0l0.81,3.40M501.2,229.5l0.81,3.40M503.5,228.9l0.81,3.40M505.8,228.4l0.81,3.40M508.1,227.8l0.81,3.40M510.4,227.3l0.81,3.40M512.7,226.7l0.81,3.40M515.1,226.2l0.81,3.40M517.4,225.6l0.81,3.40M519.7,225.1l0.81,3.40M522.0,224.5l0.81,3.40" stroke="#6c6c6c" stroke-width="0.5" fill="none"/>
<path d="M478.8,238.4L522.8,227.9" stroke="#999" stroke-width="0.4" fill="none"/>
<path d="M530.0,216.0L560.0,212.0M530.0,216.0l0.40,2.97M532.3,215.7l0.40,2.97M534.6,215.4l0.40,2.97M536.9,215.1l0.40,2.97M539.2,214.8l0.40,2.97M541.5,214.5l0.40,2.97M543.8,214.2l0.40,2.97M546.2,213.8l0.40,2.97M548.5,213.5l0.40,2.97M550.8,213.2l0.40,2.97M553.1,212.9l0.40,2.97M555.4,212.6l0.40,2.97M557.7,212.3l0.40,2.97M560.0,212.0l0.40,2.97" stroke="#6c6c6c" stroke-width="0.5" fill="none"/>
<path d="M530.4,219.0L560.4,215.0" stroke="#999" stroke-width="0.4" fill="none"/>
<path d="M472.0,328.0L578.0,302.0M472.0,328.0l1.43,5.83M474.5,327.4l1.43,5.83M477.0,326.8l1.43,5.83M479.6,326.1l1.43,5.83M482.1,325.5l1.43,5.83M484.6,324.9l1.43,5.83M487.1,324.3l1.43,5.83M489.7,323.7l1.43,5.83M492.2,323.0l1.43,5.83M494.7,322.4l1.43,5.83M497.2,321.8l1.43,5.83M499.8,321.2l1.43,5.83M502.3,320.6l1.43,5.83M504.8,320.0l1.43,5.83M507.3,319.3l1.43,5.83M509.9,318.7l1.43,5.83M512.4,318.1l1.43,5.83M514.9,317.5l1.43,5.83M517.4,316.9l1.43,5.83M520.0,316.2l1.43,5.83M522.5,315.6l1.43,5.83M525.0,315.0l1.43,5.83M527.5,314.4l1.43,5.83M530.0,313.8l1.43,5.83M532.6,313.1l1.43,5.83M535.1,312.5l1.43,5.83M537.6,311.9l1.43,5.83M540.1,311.3l1.43,5.83M542.7,310.7l1.43,5.83M545.2,310.0l1.43,5.83M547.7,309.4l1.43,5.83M550.2,308.8l1.43,5.83M552.8,308.2l1.43,5.83M555.3,307.6l1.43,5.83M557.8,307.0l1.43,5.83M560.3,306.3l1.43,5.83M562.9,305.7l1.43,5.83M565.4,305.1l1.43,5.83M567.9,304.5l1.43,5.83M570.4,303.9l1.43,5.83M573.0,303.2l1.43,5.83M575.5,302.6l1.43,5.83M578.0,302.0l1.43,5.83" stroke="#6c6c6c" stroke-width="0.5" fill="none"/>
<path d="M473.4,333.8L579.4,307.8" stroke="#999" stroke-width="0.4" fill="none"/>
<path d="M485.0,316.0L578.0,294.0M485.0,316.0l-1.15,-4.87M487.5,315.4l-1.15,-4.87M490.0,314.8l-1.15,-4.87M492.5,314.2l-1.15,-4.87M495.1,313.6l-1.15,-4.87M497.6,313.0l-1.15,-4.87M500.1,312.4l-1.15,-4.87M502.6,311.8l-1.15,-4.87M505.1,311.2l-1.15,-4.87M507.6,310.6l-1.15,-4.87M510.1,310.1l-1.15,-4.87M512.6,309.5l-1.15,-4.87M515.2,308.9l-1.15,-4.87M517.7,308.3l-1.15,-4.87M520.2,307.7l-1.15,-4.87M522.7,307.1l-1.15,-4.87M525.2,306.5l-1.15,-4.87M527.7,305.9l-1.15,-4.87M530.2,305.3l-1.15,-4.87M532.8,304.7l-1.15,-4.87M535.3,304.1l-1.15,-4.87M537.8,303.5l-1.15,-4.87M540.3,302.9l-1.15,-4.87M542.8,302.3l-1.15,-4.87M545.3,301.7l-1.15,-4.87M547.8,301.1l-1.15,-4.87M550.4,300.5l-1.15,-4.87M552.9,299.9l-1.15,-4.87M555.4,299.4l-1.15,-4.87M557.9,298.8l-1.15,-4.87M560.4,298.2l-1.15,-4.87M562.9,297.6l-1.15,-4.87M565.4,297.0l-1.15,-4.87M567.9,296.4l-1.15,-4.87M570.5,295.8l-1.15,-4.87M573.0,295.2l-1.15,-4.87M575.5,294.6l-1.15,-4.87M578.0,294.0l-1.15,-4.87" stroke="#6c6c6c" stroke-width="0.5" fill="none"/>
<path d="M483.8,311.1L576.8,289.1" stroke="#999" stroke-width="0.4" fill="none"/>
<path d="M585.0,300.0L645.0,297.0M585.0,300.0l0.22,4.49M587.6,299.9l0.22,4.49M590.2,299.7l0.22,4.49M592.8,299.6l0.22,4.49M595.4,299.5l0.22,4.49M598.0,299.3l0.22,4.49M600.7,299.2l0.22,4.49M603.3,299.1l0.22,4.49M605.9,299.0l0.22,4.49M608.5,298.8l0.22,4.49M611.1,298.7l0.22,4.49M613.7,298.6l0.22,4.49M616.3,298.4l0.22,4.49M618.9,298.3l0.22,4.49M621.5,298.2l0.22,4.49M624.1,298.0l0.22,4.49M626.7,297.9l0.22,4.49M629.3,297.8l0.22,4.49M632.0,297.7l0.22,4.49M634.6,297.5l0.22,4.49M637.2,297.4l0.22,4.49M639.8,297.3l0.22,4.49M642.4,297.1l0.22,4.49M645.0,297.0l0.22,4.49" stroke="#6c6c6c" stroke-width="0.5" fill="none"/>
<path d="M585.2,304.5L645.2,301.5" stroke="#999" stroke-width="0.4" fill="none"/>
<path d="M585.0,290.0L645.0,288.0M585.0,290.0l-0.13,-4.00M587.6,289.9l-0.13,-4.00M590.2,289.8l-0.13,-4.00M592.8,289.7l-0.13,-4.00M595.4,289.7l-0.13,-4.00M598.0,289.6l-0.13,-4.00M600.7,289.5l-0.13,-4.00M603.3,289.4l-0.13,-4.00M605.9,289.3l-0.13,-4.00M608.5,289.2l-0.13,-4.00M611.1,289.1l-0.13,-4.00M613.7,289.0l-0.13,-4.00M616.3,289.0l-0.13,-4.00M618.9,288.9l-0.13,-4.00M621.5,288.8l-0.13,-4.00M624.1,288.7l-0.13,-4.00M626.7,288.6l-0.13,-4.00M629.3,288.5l-0.13,-4.00M632.0,288.4l-0.13,-4.00M634.6,288.3l-0.13,-4.00M637.2,288.3l-0.13,-4.00M639.8,288.2l-0.13,-4.00M642.4,288.1l-0.13,-4.00M645.0,288.0l-0.13,-4.00" stroke="#6c6c6c" stroke-width="0.5" fill="none"/>
<path d="M584.9,286.0L644.9,284.0" stroke="#999" stroke-width="0.4" fill="none"/>
<rect x="-30.5" y="-11.0" width="61" height="22" rx="10" fill="none" stroke="#888" stroke-width="0.5" transform="translate(567,330) rotate(0)"/>
<rect x="-25.5" y="-6.0" width="51" height="12" rx="5" fill="none" stroke="#aaa" stroke-width="0.35" transform="translate(567,330) rotate(0)"/>
<path d="M546.5,319.0l-0.00,5.00M549.1,319.0l-0.00,5.00M551.6,319.0l-0.00,5.00M554.2,319.0l-0.00,5.00M556.8,319.0l-0.00,5.00M559.3,319.0l-0.00,5.00M561.9,319.0l-0.00,5.00M564.4,319.0l-0.00,5.00M567.0,319.0l-0.00,5.00M569.6,319.0l-0.00,5.00M572.1,319.0l-0.00,5.00M574.7,319.0l-0.00,5.00M577.2,319.0l-0.00,5.00M579.8,319.0l-0.00,5.00M582.4,319.0l-0.00,5.00M584.9,319.0l-0.00,5.00M587.5,319.0l-0.00,5.00" stroke="#6c6c6c" stroke-width="0.5" fill="none"/>
<path d="M546.5,341.0l0.00,-5.00M549.1,341.0l0.00,-5.00M551.6,341.0l0.00,-5.00M554.2,341.0l0.00,-5.00M556.8,341.0l0.00,-5.00M559.3,341.0l0.00,-5.00M561.9,341.0l0.00,-5.00M564.4,341.0l0.00,-5.00M567.0,341.0l0.00,-5.00M569.6,341.0l0.00,-5.00M572.1,341.0l0.00,-5.00M574.7,341.0l0.00,-5.00M577.2,341.0l0.00,-5.00M579.8,341.0l0.00,-5.00M582.4,341.0l0.00,-5.00M584.9,341.0l0.00,-5.00M587.5,341.0l0.00,-5.00" stroke="#6c6c6c" stroke-width="0.5" fill="none"/>
<rect x="-30.5" y="-11.0" width="61" height="22" rx="10" fill="none" stroke="#888" stroke-width="0.5" transform="translate(567,355) rotate(0)"/>
<rect x="-25.5" y="-6.0" width="51" height="12" rx="5" fill="none" stroke="#aaa" stroke-width="0.35" transform="translate(567,355) rotate(0)"/>
<path d="M546.5,344.0l-0.00,5.00M549.1,344.0l-0.00,5.00M551.6,344.0l-0.00,5.00M554.2,344.0l-0.00,5.00M556.8,344.0l-0.00,5.00M559.3,344.0l-0.00,5.00M561.9,344.0l-0.00,5.00M564.4,344.0l-0.00,5.00M567.0,344.0l-0.00,5.00M569.6,344.0l-0.00,5.00M572.1,344.0l-0.00,5.00M574.7,344.0l-0.00,5.00M577.2,344.0l-0.00,5.00M579.8,344.0l-0.00,5.00M582.4,344.0l-0.00,5.00M584.9,344.0l-0.00,5.00M587.5,344.0l-0.00,5.00" stroke="#6c6c6c" stroke-width="0.5" fill="none"/>
<path d="M546.5,366.0l0.00,-5.00M549.1,366.0l0.00,-5.00M551.6,366.0l0.00,-5.00M554.2,366.0l0.00,-5.00M556.8,366.0l0.00,-5.00M559.3,366.0l0.00,-5.00M561.9,366.0l0.00,-5.00M564.4,366.0l0.00,-5.00M567.0,366.0l0.00,-5.00M569.6,366.0l0.00,-5.00M572.1,366.0l0.00,-5.00M574.7,366.0l0.00,-5.00M577.2,366.0l0.00,-5.00M579.8,366.0l0.00,-5.00M582.4,366.0l0.00,-5.00M584.9,366.0l0.00,-5.00M587.5,366.0l0.00,-5.00" stroke="#6c6c6c" stroke-width="0.5" fill="none"/>
<path d="M476,345 Q476,332 488,331 L600,322 Q612,321 612,333 L612,425 M476,345 L476,425 Q476,432 484,432 L652,432 Q660,432 660,424 L658,320" fill="none" stroke="#888" stroke-width="0.5"/>
<path d="M482.2,345.3L482.2,416.1M482.2,345.3l4.50,-0.00M482.2,347.7l4.50,-0.00M482.2,350.0l4.50,-0.00M482.2,352.4l4.50,-0.00M482.2,354.7l4.50,-0.00M482.2,357.1l4.50,-0.00M482.2,359.5l4.50,-0.00M482.2,361.8l4.50,-0.00M482.2,364.2l4.50,-0.00M482.2,366.5l4.50,-0.00M482.2,368.9l4.50,-0.00M482.2,371.3l4.50,-0.00M482.2,373.6l4.50,-0.00M482.2,376.0l4.50,-0.00M482.2,378.3l4.50,-0.00M482.2,380.7l4.50,-0.00M482.2,383.1l4.50,-0.00M482.2,385.4l4.50,-0.00M482.2,387.8l4.50,-0.00M482.2,390.1l4.50,-0.00M482.2,392.5l4.50,-0.00M482.2,394.9l4.50,-0.00M482.2,397.2l4.50,-0.00M482.2,399.6l4.50,-0.00M482.2,401.9l4.50,-0.00M482.2,404.3l4.50,-0.00M482.2,406.7l4.50,-0.00M482.2,409.0l4.50,-0.00M482.2,411.4l4.50,-0.00M482.2,413.7l4.50,-0.00M482.2,416.1l4.50,-0.00" stroke="#6c6c6c" stroke-width="0.5" fill="none"/>
<path d="M486.7,345.3L486.7,416.1" stroke="#999" stroke-width="0.4" fill="none"/>
<path d="M487.7,418.8L651.0,418.8M487.7,418.8l-0.00,4.00M490.1,418.8l-0.00,4.00M492.5,418.8l-0.00,4.00M494.9,418.8l-0.00,4.00M497.3,418.8l-0.00,4.00M499.7,418.8l-0.00,4.00M502.1,418.8l-0.00,4.00M504.5,418.8l-0.00,4.00M506.9,418.8l-0.00,4.00M509.3,418.8l-0.00,4.00M511.7,418.8l-0.00,4.00M514.1,418.8l-0.00,4.00M516.5,418.8l-0.00,4.00M518.9,418.8l-0.00,4.00M521.3,418.8l-0.00,4.00M523.7,418.8l-0.00,4.00M526.1,418.8l-0.00,4.00M528.5,418.8l-0.00,4.00M530.9,418.8l-0.00,4.00M533.3,418.8l-0.00,4.00M535.7,418.8l-0.00,4.00M538.1,418.8l-0.00,4.00M540.5,418.8l-0.00,4.00M542.9,418.8l-0.00,4.00M545.3,418.8l-0.00,4.00M547.7,418.8l-0.00,4.00M550.1,418.8l-0.00,4.00M552.5,418.8l-0.00,4.00M554.9,418.8l-0.00,4.00M557.3,418.8l-0.00,4.00M559.7,418.8l-0.00,4.00M562.1,418.8l-0.00,4.00M564.5,418.8l-0.00,4.00M566.9,418.8l-0.00,4.00M569.4,418.8l-0.00,4.00M571.8,418.8l-0.00,4.00M574.2,418.8l-0.00,4.00M576.6,418.8l-0.00,4.00M579.0,418.8l-0.00,4.00M581.4,418.8l-0.00,4.00M583.8,418.8l-0.00,4.00M586.2,418.8l-0.00,4.00M588.6,418.8l-0.00,4.00M591.0,418.8l-0.00,4.00M593.4,418.8l-0.00,4.00M595.8,418.8l-0.00,4.00M598.2,418.8l-0.00,4.00M600.6,418.8l-0.00,4.00M603.0,418.8l-0.00,4.00M605.4,418.8l-0.00,4.00M607.8,418.8l-0.00,4.00M610.2,418.8l-0.00,4.00M612.6,418.8l-0.00,4.00M615.0,418.8l-0.00,4.00M617.4,418.8l-0.00,4.00M619.8,418.8l-0.00,4.00M622.2,418.8l-0.00,4.00M624.6,418.8l-0.00,4.00M627.0,418.8l-0.00,4.00M629.4,418.8l-0.00,4.00M631.8,418.8l-0.00,4.00M634.2,418.8l-0.00,4.00M636.6,418.8l-0.00,4.00M639.0,418.8l-0.00,4.00M641.4,418.8l-0.00,4.00M643.8,418.8l-0.00,4.00M646.2,418.8l-0.00,4.00M648.6,418.8l-0.00,4.00M651.0,418.8l-0.00,4.00" stroke="#6c6c6c" stroke-width="0.5" fill="none"/>
<path d="M487.7,422.8L651.0,422.8" stroke="#999" stroke-width="0.4" fill="none"/>
<path d="M478.0,430.5L690.0,433.5M478.0,430.5l-0.06,4.50M480.4,430.5l-0.06,4.50M482.8,430.6l-0.06,4.50M485.2,430.6l-0.06,4.50M487.6,430.6l-0.06,4.50M490.0,430.7l-0.06,4.50M492.5,430.7l-0.06,4.50M494.9,430.7l-0.06,4.50M497.3,430.8l-0.06,4.50M499.7,430.8l-0.06,4.50M502.1,430.8l-0.06,4.50M504.5,430.9l-0.06,4.50M506.9,430.9l-0.06,4.50M509.3,430.9l-0.06,4.50M511.7,431.0l-0.06,4.50M514.1,431.0l-0.06,4.50M516.5,431.0l-0.06,4.50M519.0,431.1l-0.06,4.50M521.4,431.1l-0.06,4.50M523.8,431.1l-0.06,4.50M526.2,431.2l-0.06,4.50M528.6,431.2l-0.06,4.50M531.0,431.2l-0.06,4.50M533.4,431.3l-0.06,4.50M535.8,431.3l-0.06,4.50M538.2,431.4l-0.06,4.50M540.6,431.4l-0.06,4.50M543.0,431.4l-0.06,4.50M545.5,431.5l-0.06,4.50M547.9,431.5l-0.06,4.50M550.3,431.5l-0.06,4.50M552.7,431.6l-0.06,4.50M555.1,431.6l-0.06,4.50M557.5,431.6l-0.06,4.50M559.9,431.7l-0.06,4.50M562.3,431.7l-0.06,4.50M564.7,431.7l-0.06,4.50M567.1,431.8l-0.06,4.50M569.5,431.8l-0.06,4.50M572.0,431.8l-0.06,4.50M574.4,431.9l-0.06,4.50M576.8,431.9l-0.06,4.50M579.2,431.9l-0.06,4.50M581.6,432.0l-0.06,4.50M584.0,432.0l-0.06,4.50M586.4,432.0l-0.06,4.50M588.8,432.1l-0.06,4.50M591.2,432.1l-0.06,4.50M593.6,432.1l-0.06,4.50M596.0,432.2l-0.06,4.50M598.5,432.2l-0.06,4.50M600.9,432.2l-0.06,4.50M603.3,432.3l-0.06,4.50M605.7,432.3l-0.06,4.50M608.1,432.3l-0.06,4.50M610.5,432.4l-0.06,4.50M612.9,432.4l-0.06,4.50M615.3,432.4l-0.06,4.50M617.7,432.5l-0.06,4.50M620.1,432.5l-0.06,4.50M622.5,432.5l-0.06,4.50M625.0,432.6l-0.06,4.50M627.4,432.6l-0.06,4.50M629.8,432.6l-0.06,4.50M632.2,432.7l-0.06,4.50M634.6,432.7l-0.06,4.50M637.0,432.8l-0.06,4.50M639.4,432.8l-0.06,4.50M641.8,432.8l-0.06,4.50M644.2,432.9l-0.06,4.50M646.6,432.9l-0.06,4.50M649.0,432.9l-0.06,4.50M651.5,433.0l-0.06,4.50M653.9,433.0l-0.06,4.50M656.3,433.0l-0.06,4.50M658.7,433.1l-0.06,4.50M661.1,433.1l-0.06,4.50M663.5,433.1l-0.06,4.50M665.9,433.2l-0.06,4.50M668.3,433.2l-0.06,4.50M670.7,433.2l-0.06,4.50M673.1,433.3l-0.06,4.50M675.5,433.3l-0.06,4.50M678.0,433.3l-0.06,4.50M680.4,433.4l-0.06,4.50M682.8,433.4l-0.06,4.50M685.2,433.4l-0.06,4.50M687.6,433.5l-0.06,4.50M690.0,433.5l-0.06,4.50" stroke="#6c6c6c" stroke-width="0.5" fill="none"/>
<path d="M477.9,435.0L689.9,438.0" stroke="#999" stroke-width="0.4" fill="none"/>
<path d="M608.5,322.0L608.5,376.0M608.5,322.0l-4.50,0.00M608.5,324.5l-4.50,0.00M608.5,326.9l-4.50,0.00M608.5,329.4l-4.50,0.00M608.5,331.8l-4.50,0.00M608.5,334.3l-4.50,0.00M608.5,336.7l-4.50,0.00M608.5,339.2l-4.50,0.00M608.5,341.6l-4.50,0.00M608.5,344.1l-4.50,0.00M608.5,346.5l-4.50,0.00M608.5,349.0l-4.50,0.00M608.5,351.5l-4.50,0.00M608.5,353.9l-4.50,0.00M608.5,356.4l-4.50,0.00M608.5,358.8l-4.50,0.00M608.5,361.3l-4.50,0.00M608.5,363.7l-4.50,0.00M608.5,366.2l-4.50,0.00M608.5,368.6l-4.50,0.00M608.5,371.1l-4.50,0.00M608.5,373.5l-4.50,0.00M608.5,376.0l-4.50,0.00" stroke="#6c6c6c" stroke-width="0.5" fill="none"/>
<path d="M604.0,322.0L604.0,376.0" stroke="#999" stroke-width="0.4" fill="none"/>
<path d="M605.0,385.0L605.0,413.0M605.0,385.0l-4.50,0.00M605.0,387.3l-4.50,0.00M605.0,389.7l-4.50,0.00M605.0,392.0l-4.50,0.00M605.0,394.3l-4.50,0.00M605.0,396.7l-4.50,0.00M605.0,399.0l-4.50,0.00M605.0,401.3l-4.50,0.00M605.0,403.7l-4.50,0.00M605.0,406.0l-4.50,0.00M605.0,408.3l-4.50,0.00M605.0,410.7l-4.50,0.00M605.0,413.0l-4.50,0.00" stroke="#6c6c6c" stroke-width="0.5" fill="none"/>
<path d="M600.5,385.0L600.5,413.0" stroke="#999" stroke-width="0.4" fill="none"/>
<path d="M650.0,325.0L650.0,416.0M650.0,325.0l-4.50,0.00M650.0,327.4l-4.50,0.00M650.0,329.8l-4.50,0.00M650.0,332.2l-4.50,0.00M650.0,334.6l-4.50,0.00M650.0,337.0l-4.50,0.00M650.0,339.4l-4.50,0.00M650.0,341.8l-4.50,0.00M650.0,344.2l-4.50,0.00M650.0,346.6l-4.50,0.00M650.0,348.9l-4.50,0.00M650.0,351.3l-4.50,0.00M650.0,353.7l-4.50,0.00M650.0,356.1l-4.50,0.00M650.0,358.5l-4.50,0.00M650.0,360.9l-4.50,0.00M650.0,363.3l-4.50,0.00M650.0,365.7l-4.50,0.00M650.0,368.1l-4.50,0.00M650.0,370.5l-4.50,0.00M650.0,372.9l-4.50,0.00M650.0,375.3l-4.50,0.00M650.0,377.7l-4.50,0.00M650.0,380.1l-4.50,0.00M650.0,382.5l-4.50,0.00M650.0,384.9l-4.50,0.00M650.0,387.3l-4.50,0.00M650.0,389.7l-4.50,0.00M650.0,392.1l-4.50,0.00M650.0,394.4l-4.50,0.00M650.0,396.8l-4.50,0.00M650.0,399.2l-4.50,0.00M650.0,401.6l-4.50,0.00M650.0,404.0l-4.50,0.00M650.0,406.4l-4.50,0.00M650.0,408.8l-4.50,0.00M650.0,411.2l-4.50,0.00M650.0,413.6l-4.50,0.00M650.0,416.0l-4.50,0.00" stroke="#6c6c6c" stroke-width="0.5" fill="none"/>
<path d="M645.5,325.0L645.5,416.0" stroke="#999" stroke-width="0.4" fill="none"/>
<rect x="-25.0" y="-55.0" width="50" height="110" rx="9" fill="none" stroke="#999" stroke-width="0.5" transform="translate(632,366) rotate(0)"/>
<line x1="598" y1="341" x2="645" y2="341" stroke="#aaa" stroke-width="0.5" stroke-dasharray="1.5,1" />
<line x1="478" y1="370" x2="615" y2="370" stroke="#aaa" stroke-width="0.5" stroke-dasharray="1.5,1" />
<line x1="600" y1="390" x2="612" y2="390" stroke="#aaa" stroke-width="0.5" />
<polyline points="664.5,286.0 676.4,340.4 699.0,439.3" fill="none" stroke="#333" stroke-width="1.0" />
<polyline points="690.6,397.4 784.1,375.0" fill="none" stroke="#333" stroke-width="1.0" stroke-dasharray="19,6.3,1.6,6.3" />
<polyline points="746.1,324.2 769.0,320.0" fill="none" stroke="#333" stroke-width="1.0" />
<polyline points="732.6,269.7 755.7,264.8" fill="none" stroke="#333" stroke-width="1.0" />
<polyline points="769.0,320.0 785.0,377.0" fill="none" stroke="#333" stroke-width="1.0" />
<path d="M664.0,300.0L684.0,400.0M664.0,300.0l-4.90,0.98M664.5,302.4l-4.90,0.98M665.0,304.8l-4.90,0.98M665.4,307.1l-4.90,0.98M665.9,309.5l-4.90,0.98M666.4,311.9l-4.90,0.98M666.9,314.3l-4.90,0.98M667.3,316.7l-4.90,0.98M667.8,319.0l-4.90,0.98M668.3,321.4l-4.90,0.98M668.8,323.8l-4.90,0.98M669.2,326.2l-4.90,0.98M669.7,328.6l-4.90,0.98M670.2,331.0l-4.90,0.98M670.7,333.3l-4.90,0.98M671.1,335.7l-4.90,0.98M671.6,338.1l-4.90,0.98M672.1,340.5l-4.90,0.98M672.6,342.9l-4.90,0.98M673.0,345.2l-4.90,0.98M673.5,347.6l-4.90,0.98M674.0,350.0l-4.90,0.98M674.5,352.4l-4.90,0.98M675.0,354.8l-4.90,0.98M675.4,357.1l-4.90,0.98M675.9,359.5l-4.90,0.98M676.4,361.9l-4.90,0.98M676.9,364.3l-4.90,0.98M677.3,366.7l-4.90,0.98M677.8,369.0l-4.90,0.98M678.3,371.4l-4.90,0.98M678.8,373.8l-4.90,0.98M679.2,376.2l-4.90,0.98M679.7,378.6l-4.90,0.98M680.2,381.0l-4.90,0.98M680.7,383.3l-4.90,0.98M681.1,385.7l-4.90,0.98M681.6,388.1l-4.90,0.98M682.1,390.5l-4.90,0.98M682.6,392.9l-4.90,0.98M683.0,395.2l-4.90,0.98M683.5,397.6l-4.90,0.98M684.0,400.0l-4.90,0.98" stroke="#6c6c6c" stroke-width="0.5" fill="none"/>
<path d="M659.1,301.0L679.1,401.0" stroke="#999" stroke-width="0.4" fill="none"/>
<path d="M673,380 Q670,395 676,405" fill="none" stroke="#888" stroke-width="0.5"/>
<circle cx="673" cy="412" r="2" fill="none" stroke="#888" stroke-width="0.5"/>
<path d="M640,209 L700,211 Q736,213 738,230 L748,300 L760,345" fill="none" stroke="#888" stroke-width="0.5"/>
<path d="M640,224 L695,226 Q728,228 731,245" fill="none" stroke="#999" stroke-width="0.5" stroke-dasharray="1.5,1"/>
<polyline points="705.0,209.0 718.0,188.0" fill="none" stroke="#888" stroke-width="0.5" />
<text x="293.5" y="344.6" font-size="5.3" font-weight="bold" fill="#0a0a0a" stroke="#0a0a0a" stroke-width="0.32" text-anchor="middle" textLength="23.1" lengthAdjust="spacingAndGlyphs" filter="url(#glow)">Pending</text>
<text x="292.1" y="358.9" font-size="5.3" font-weight="bold" fill="#0a0a0a" stroke="#0a0a0a" stroke-width="0.32" text-anchor="middle" textLength="26.5" lengthAdjust="spacingAndGlyphs" filter="url(#glow)">Car Wash</text>
<text x="360.5" y="311.5" font-size="5.0" font-weight="bold" fill="#0a0a0a" stroke="#0a0a0a" stroke-width="0.32" text-anchor="middle" textLength="24.3" lengthAdjust="spacingAndGlyphs" filter="url(#glow)">Pending</text>
<text x="359.9" y="325.8" font-size="5.0" font-weight="bold" fill="#0a0a0a" stroke="#0a0a0a" stroke-width="0.32" text-anchor="middle" textLength="27.6" lengthAdjust="spacingAndGlyphs" filter="url(#glow)">C-Store &amp;</text>
<text x="360.5" y="332.5" font-size="5.0" font-weight="bold" fill="#0a0a0a" stroke="#0a0a0a" stroke-width="0.32" text-anchor="middle" textLength="33.2" lengthAdjust="spacingAndGlyphs" filter="url(#glow)">Gas Station</text>
<text x="431.3" y="251.5" font-size="5.3" font-weight="bold" fill="#0a0a0a" stroke="#0a0a0a" stroke-width="0.32" text-anchor="middle" textLength="22.4" lengthAdjust="spacingAndGlyphs" filter="url(#glow)">Pending</text>
<text x="431.7" y="265.5" font-size="5.3" font-weight="bold" fill="#0a0a0a" stroke="#0a0a0a" stroke-width="0.32" text-anchor="middle" textLength="12.2" lengthAdjust="spacingAndGlyphs" filter="url(#glow)">QSR</text>
<text x="468.8" y="241.8" font-size="5.0" font-weight="bold" fill="#0a0a0a" stroke="#0a0a0a" stroke-width="0.32" text-anchor="middle" textLength="23.5" lengthAdjust="spacingAndGlyphs" filter="url(#glow)">Pending</text>
<text x="469.2" y="256.1" font-size="5.0" font-weight="bold" fill="#0a0a0a" stroke="#0a0a0a" stroke-width="0.32" text-anchor="middle" textLength="18.8" lengthAdjust="spacingAndGlyphs" filter="url(#glow)">Coffee</text>
<text x="508" y="233.7" font-size="5.2" font-weight="bold" fill="#0a0a0a" stroke="#0a0a0a" stroke-width="0.32" text-anchor="middle" textLength="24.9" lengthAdjust="spacingAndGlyphs" filter="url(#glow)">Restraunt</text>
<text x="507.6" y="246.5" font-size="5.2" font-weight="bold" fill="#0a0a0a" stroke="#0a0a0a" stroke-width="0.32" text-anchor="middle" textLength="23.5" lengthAdjust="spacingAndGlyphs" filter="url(#glow)">43,580 SF</text>
<text x="542.9" y="226.6" font-size="5.0" font-weight="bold" fill="#0a0a0a" stroke="#0a0a0a" stroke-width="0.32" text-anchor="middle" textLength="23.5" lengthAdjust="spacingAndGlyphs" filter="url(#glow)">Pending</text>
<text x="543.5" y="239.9" font-size="5.0" font-weight="bold" fill="#0a0a0a" stroke="#0a0a0a" stroke-width="0.32" text-anchor="middle" textLength="32.7" lengthAdjust="spacingAndGlyphs" filter="url(#glow)">Fast Casual</text>
<text x="625.1" y="238.9" font-size="5.0" font-weight="bold" fill="#0a0a0a" stroke="#0a0a0a" stroke-width="0.32" text-anchor="middle" textLength="24.5" lengthAdjust="spacingAndGlyphs" filter="url(#glow)">Pending</text>
<text x="625.3" y="252.8" font-size="5.0" font-weight="bold" fill="#0a0a0a" stroke="#0a0a0a" stroke-width="0.32" text-anchor="middle" textLength="26.9" lengthAdjust="spacingAndGlyphs" filter="url(#glow)">Breakfast</text>
<text x="625.3" y="259.9" font-size="5.0" font-weight="bold" fill="#0a0a0a" stroke="#0a0a0a" stroke-width="0.32" text-anchor="middle" textLength="23.9" lengthAdjust="spacingAndGlyphs" filter="url(#glow)">&amp; Lunch</text>
<text x="690" y="251.7" font-size="5.0" font-weight="bold" fill="#0a0a0a" stroke="#0a0a0a" stroke-width="0.32" text-anchor="middle" textLength="14.3" lengthAdjust="spacingAndGlyphs" filter="url(#glow)">LOT 1</text>
<text x="690" y="263.6" font-size="5.0" font-weight="bold" fill="#0a0a0a" stroke="#0a0a0a" stroke-width="0.32" text-anchor="middle" textLength="23.8" lengthAdjust="spacingAndGlyphs" filter="url(#glow)">63,706 SF</text>
<text x="703.6" y="303" font-size="5.0" font-weight="bold" fill="#0a0a0a" stroke="#0a0a0a" stroke-width="0.32" text-anchor="middle" textLength="16" lengthAdjust="spacingAndGlyphs" filter="url(#glow)">LOT 2</text>
<text x="702.9" y="315.2" font-size="5.0" font-weight="bold" fill="#0a0a0a" stroke="#0a0a0a" stroke-width="0.32" text-anchor="middle" textLength="25.2" lengthAdjust="spacingAndGlyphs" filter="url(#glow)">46,275 SF</text>
<text x="720.6" y="352.8" font-size="5.2" font-weight="bold" fill="#0a0a0a" stroke="#0a0a0a" stroke-width="0.32" text-anchor="middle" textLength="20.4" lengthAdjust="spacingAndGlyphs" filter="url(#glow)">Pending</text>
<text x="720" y="365" font-size="5.2" font-weight="bold" fill="#0a0a0a" stroke="#0a0a0a" stroke-width="0.32" text-anchor="middle" textLength="29.8" lengthAdjust="spacingAndGlyphs" filter="url(#glow)">Urgent Care</text>
<text x="732.3" y="408.3" font-size="5.2" font-weight="bold" fill="#0a0a0a" stroke="#0a0a0a" stroke-width="0.32" text-anchor="middle" textLength="20.6" lengthAdjust="spacingAndGlyphs" filter="url(#glow)">Pending</text>
<text x="732.3" y="421.2" font-size="5.2" font-weight="bold" fill="#0a0a0a" stroke="#0a0a0a" stroke-width="0.32" text-anchor="middle" textLength="13.1" lengthAdjust="spacingAndGlyphs" filter="url(#glow)">Bank</text>
<text x="507.2" y="382.5" font-size="5.0" font-weight="bold" fill="#0a0a0a" stroke="#0a0a0a" stroke-width="0.32" text-anchor="middle" textLength="19.1" lengthAdjust="spacingAndGlyphs" filter="url(#glow)">LOT 10</text>
<text x="506.7" y="395.2" font-size="5.0" font-weight="bold" fill="#0a0a0a" stroke="#0a0a0a" stroke-width="0.32" text-anchor="middle" textLength="24.5" lengthAdjust="spacingAndGlyphs" filter="url(#glow)">16,200 SF</text>
<text x="569" y="395.7" font-size="5.0" font-weight="bold" fill="#0a0a0a" stroke="#0a0a0a" stroke-width="0.32" text-anchor="middle" textLength="18.4" lengthAdjust="spacingAndGlyphs" filter="url(#glow)">LOT 11</text>
<text x="569.4" y="408" font-size="5.0" font-weight="bold" fill="#0a0a0a" stroke="#0a0a0a" stroke-width="0.32" text-anchor="middle" textLength="25.5" lengthAdjust="spacingAndGlyphs" filter="url(#glow)">13,000 SF</text>
<text x="631.2" y="367.8" font-size="5.0" font-weight="bold" fill="#0a0a0a" stroke="#0a0a0a" stroke-width="0.32" text-anchor="middle" textLength="18.4" lengthAdjust="spacingAndGlyphs" filter="url(#glow)">LOT 12</text>
<text x="631.2" y="380.8" font-size="5.0" font-weight="bold" fill="#0a0a0a" stroke="#0a0a0a" stroke-width="0.32" text-anchor="middle" textLength="24.5" lengthAdjust="spacingAndGlyphs" filter="url(#glow)">19,000 SF</text>
<text x="375.7" y="383.3" font-size="5.2" font-weight="bold" fill="#0a0a0a" stroke="#0a0a0a" stroke-width="0.32" text-anchor="middle" textLength="15" lengthAdjust="spacingAndGlyphs" filter="url(#glow)">LOT 6</text>
<text x="374.6" y="396.9" font-size="5.2" font-weight="bold" fill="#0a0a0a" stroke="#0a0a0a" stroke-width="0.32" text-anchor="middle" textLength="24" lengthAdjust="spacingAndGlyphs" filter="url(#glow)">28,267 SF</text>
<text x="514.8" y="491.4" font-size="5.0" font-weight="bold" fill="#0a0a0a" stroke="#0a0a0a" stroke-width="0.32" text-anchor="middle" textLength="17.2" lengthAdjust="spacingAndGlyphs" filter="url(#glow)">LOT 8</text>
<text x="514.1" y="504.4" font-size="5.0" font-weight="bold" fill="#0a0a0a" stroke="#0a0a0a" stroke-width="0.32" text-anchor="middle" textLength="25.1" lengthAdjust="spacingAndGlyphs" filter="url(#glow)">50,582 SF</text>
<text x="639.8" y="496.5" font-size="5.2" font-weight="bold" fill="#0a0a0a" stroke="#0a0a0a" stroke-width="0.32" text-anchor="middle" textLength="14.8" lengthAdjust="spacingAndGlyphs" filter="url(#glow)">LOT 7</text>
<text x="640.2" y="507.9" font-size="5.2" font-weight="bold" fill="#0a0a0a" stroke="#0a0a0a" stroke-width="0.32" text-anchor="middle" textLength="24.8" lengthAdjust="spacingAndGlyphs" filter="url(#glow)">79,771 SF</text>
<text x="707.7" y="491.4" font-size="5.2" font-weight="bold" fill="#0a0a0a" stroke="#0a0a0a" stroke-width="0.32" text-anchor="middle" textLength="22" lengthAdjust="spacingAndGlyphs" filter="url(#glow)">Pending</text>
<text x="707.7" y="504.4" font-size="5.2" font-weight="bold" fill="#0a0a0a" stroke="#0a0a0a" stroke-width="0.32" text-anchor="middle" textLength="22" lengthAdjust="spacingAndGlyphs" filter="url(#glow)">American</text>
<text x="708" y="510.3" font-size="5.0" font-weight="bold" fill="#0a0a0a" stroke="#0a0a0a" stroke-width="0.32" text-anchor="middle" textLength="26.9" lengthAdjust="spacingAndGlyphs" filter="url(#glow)">Sports Bar</text>
<text x="762.1" y="497.6" font-size="5.0" font-weight="bold" fill="#0a0a0a" stroke="#0a0a0a" stroke-width="0.32" text-anchor="middle" textLength="13.8" lengthAdjust="spacingAndGlyphs" filter="url(#glow)">LOT 6</text>
<text x="762.8" y="509.6" font-size="5.0" font-weight="bold" fill="#0a0a0a" stroke="#0a0a0a" stroke-width="0.32" text-anchor="middle" textLength="24.1" lengthAdjust="spacingAndGlyphs" filter="url(#glow)">65,346 SF</text>
<text x="322.4" y="461.7" font-size="5.0" font-weight="bold" fill="#0a0a0a" stroke="#0a0a0a" stroke-width="0.32" text-anchor="middle" textLength="23.1" lengthAdjust="spacingAndGlyphs" filter="url(#glow)">Pending</text>
<text x="321.9" y="474.3" font-size="5.2" font-weight="bold" fill="#0a0a0a" stroke="#0a0a0a" stroke-width="0.32" text-anchor="middle" textLength="19.5" lengthAdjust="spacingAndGlyphs" filter="url(#glow)">Fitness</text>
<text x="321.2" y="480.7" font-size="5.2" font-weight="bold" fill="#0a0a0a" stroke="#0a0a0a" stroke-width="0.32" text-anchor="middle" textLength="17.1" lengthAdjust="spacingAndGlyphs" filter="url(#glow)">Center</text>
<polygon points="-8.25,-2.58 1.65,-2.58 1.65,-3.80 8.25,0.00 1.65,3.80 1.65,2.58 -8.25,2.58" fill="#2aea2a" stroke="#2aea2a" stroke-width="0.4" stroke-linejoin="round" transform="translate(252.4,337.6) rotate(66)"/>
<polygon points="-7.50,-2.45 1.50,-2.45 1.50,-3.60 7.50,0.00 1.50,3.60 1.50,2.45 -7.50,2.45" fill="#ec1414" stroke="#ec1414" stroke-width="0.4" stroke-linejoin="round" transform="translate(260.6,334.3) rotate(-115)"/>
<polygon points="-8.25,-2.58 1.65,-2.58 1.65,-3.80 8.25,0.00 1.65,3.80 1.65,2.58 -8.25,2.58" fill="#2aea2a" stroke="#2aea2a" stroke-width="0.4" stroke-linejoin="round" transform="translate(386.5,263) rotate(66)"/>
<polygon points="-7.75,-2.45 1.55,-2.45 1.55,-3.60 7.75,0.00 1.55,3.60 1.55,2.45 -7.75,2.45" fill="#ec1414" stroke="#ec1414" stroke-width="0.4" stroke-linejoin="round" transform="translate(394.6,259.5) rotate(-115)"/>
<polygon points="-8.25,-2.45 1.65,-2.45 1.65,-3.60 8.25,0.00 1.65,3.60 1.65,2.45 -8.25,2.45" fill="#2aea2a" stroke="#2aea2a" stroke-width="0.4" stroke-linejoin="round" transform="translate(553.1,211.3) rotate(80)"/>
<polygon points="-8.00,-2.38 1.60,-2.38 1.60,-3.50 8.00,0.00 1.60,3.50 1.60,2.38 -8.00,2.38" fill="#ec1414" stroke="#ec1414" stroke-width="0.4" stroke-linejoin="round" transform="translate(560.8,210.3) rotate(-98)"/>
<polygon points="-9.00,-1.77 1.80,-1.77 1.80,-2.60 9.00,0.00 1.80,2.60 1.80,1.77 -9.00,1.77" fill="#2aea2a" stroke="#2aea2a" stroke-width="0.4" stroke-linejoin="round" transform="translate(811.1,444.8) rotate(180)"/>
<polygon points="-8.50,-1.77 1.70,-1.77 1.70,-2.60 8.50,0.00 1.70,2.60 1.70,1.77 -8.50,1.77" fill="#ec1414" stroke="#ec1414" stroke-width="0.4" stroke-linejoin="round" transform="translate(810.7,453.3) rotate(0)"/>
<circle cx="53.9" cy="266.5" r="20.2" fill="#fff" stroke="#222" stroke-width="1.3"/>
<polygon points="38.3,266.7 45.9,257.9 45.9,275.7" fill="#111"/>
<path d="M51,258.4 L54.7,258.4 L60.8,268.3 L60.8,258.4 L64.3,258.4 L64.3,274.2 L60.6,274.2 L54.5,264.4 L54.5,274.2 L51,274.2 Z" fill="#111"/>
</svg></body></html>
